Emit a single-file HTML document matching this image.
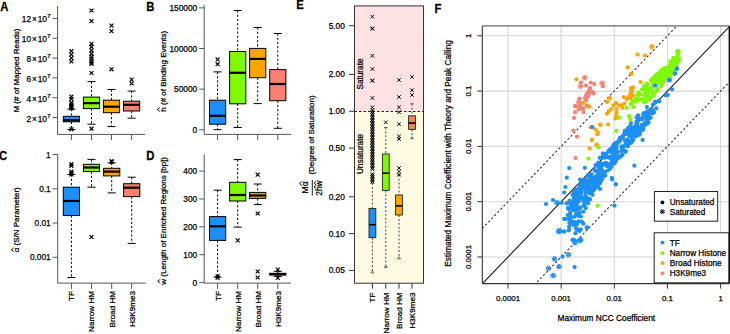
<!DOCTYPE html>
<html><head><meta charset="utf-8"><style>
html,body{margin:0;padding:0;background:#fff;width:730px;height:334px;overflow:hidden}
svg{display:block;font-family:'Liberation Sans',sans-serif}
text{font-family:'Liberation Sans',sans-serif;stroke:#000;stroke-width:0.25px}
</style></head><body>
<svg width="730" height="334" viewBox="0 0 730 334">
<rect width="730" height="334" fill="#fff"/>
<g transform="translate(0.3,10.6) scale(0.86,1)"><text x="0" y="0" font-size="13.2" font-weight="bold">A</text></g>
<line x1="57.60" y1="6.00" x2="57.60" y2="134.40" stroke="#555" stroke-width="1"/>
<line x1="57.60" y1="134.40" x2="145.00" y2="134.40" stroke="#555" stroke-width="1"/>
<line x1="71.40" y1="134.40" x2="71.40" y2="140.00" stroke="#555" stroke-width="1"/>
<line x1="91.50" y1="134.40" x2="91.50" y2="140.00" stroke="#555" stroke-width="1"/>
<line x1="111.50" y1="134.40" x2="111.50" y2="140.00" stroke="#555" stroke-width="1"/>
<line x1="131.60" y1="134.40" x2="131.60" y2="140.00" stroke="#555" stroke-width="1"/>
<line x1="52.60" y1="117.50" x2="57.60" y2="117.50" stroke="#555" stroke-width="1"/>
<text x="50.60" y="121.50" font-size="8.3" text-anchor="end">2<tspan dx="0.9">×</tspan><tspan dx="0.9">10</tspan><tspan font-size="5.8" dy="-4.0" dx="0.4">7</tspan></text>
<line x1="52.60" y1="97.68" x2="57.60" y2="97.68" stroke="#555" stroke-width="1"/>
<text x="50.60" y="101.68" font-size="8.3" text-anchor="end">4<tspan dx="0.9">×</tspan><tspan dx="0.9">10</tspan><tspan font-size="5.8" dy="-4.0" dx="0.4">7</tspan></text>
<line x1="52.60" y1="77.86" x2="57.60" y2="77.86" stroke="#555" stroke-width="1"/>
<text x="50.60" y="81.86" font-size="8.3" text-anchor="end">6<tspan dx="0.9">×</tspan><tspan dx="0.9">10</tspan><tspan font-size="5.8" dy="-4.0" dx="0.4">7</tspan></text>
<line x1="52.60" y1="58.04" x2="57.60" y2="58.04" stroke="#555" stroke-width="1"/>
<text x="50.60" y="62.04" font-size="8.3" text-anchor="end">8<tspan dx="0.9">×</tspan><tspan dx="0.9">10</tspan><tspan font-size="5.8" dy="-4.0" dx="0.4">7</tspan></text>
<line x1="52.60" y1="38.22" x2="57.60" y2="38.22" stroke="#555" stroke-width="1"/>
<text x="50.60" y="42.22" font-size="8.3" text-anchor="end">10<tspan dx="0.9">×</tspan><tspan dx="0.9">10</tspan><tspan font-size="5.8" dy="-4.0" dx="0.4">7</tspan></text>
<line x1="52.60" y1="18.40" x2="57.60" y2="18.40" stroke="#555" stroke-width="1"/>
<text x="50.60" y="22.40" font-size="8.3" text-anchor="end">12<tspan dx="0.9">×</tspan><tspan dx="0.9">10</tspan><tspan font-size="5.8" dy="-4.0" dx="0.4">7</tspan></text>
<text x="19.30" y="70.50" font-size="8.0" text-anchor="middle" font-weight="normal" fill="#000" transform="rotate(-90 19.3 70.5)">M (# of Mapped Reads)</text>
<line x1="71.40" y1="109.10" x2="71.40" y2="116.30" stroke="#000" stroke-width="1" stroke-dasharray="2.2,2"/>
<line x1="67.35" y1="109.10" x2="75.45" y2="109.10" stroke="#000" stroke-width="1"/>
<line x1="71.40" y1="121.80" x2="71.40" y2="129.50" stroke="#000" stroke-width="1" stroke-dasharray="2.2,2"/>
<line x1="67.35" y1="129.50" x2="75.45" y2="129.50" stroke="#000" stroke-width="1"/>
<rect x="63.30" y="116.30" width="16.20" height="5.50" fill="#1D8FF8" stroke="#000" stroke-width="1"/>
<line x1="63.30" y1="120.20" x2="79.50" y2="120.20" stroke="#000" stroke-width="2.2"/>
<line x1="91.50" y1="81.60" x2="91.50" y2="97.10" stroke="#000" stroke-width="1" stroke-dasharray="2.2,2"/>
<line x1="87.45" y1="81.60" x2="95.55" y2="81.60" stroke="#000" stroke-width="1"/>
<line x1="91.50" y1="108.60" x2="91.50" y2="124.20" stroke="#000" stroke-width="1" stroke-dasharray="2.2,2"/>
<line x1="87.45" y1="124.20" x2="95.55" y2="124.20" stroke="#000" stroke-width="1"/>
<rect x="83.40" y="97.10" width="16.20" height="11.50" fill="#7FFA00" stroke="#000" stroke-width="1"/>
<line x1="83.40" y1="103.10" x2="99.60" y2="103.10" stroke="#000" stroke-width="2.2"/>
<line x1="111.50" y1="89.50" x2="111.50" y2="100.20" stroke="#000" stroke-width="1" stroke-dasharray="2.2,2"/>
<line x1="107.45" y1="89.50" x2="115.55" y2="89.50" stroke="#000" stroke-width="1"/>
<line x1="111.50" y1="112.70" x2="111.50" y2="126.60" stroke="#000" stroke-width="1" stroke-dasharray="2.2,2"/>
<line x1="107.45" y1="126.60" x2="115.55" y2="126.60" stroke="#000" stroke-width="1"/>
<rect x="103.40" y="100.20" width="16.20" height="12.50" fill="#FFA500" stroke="#000" stroke-width="1"/>
<line x1="103.40" y1="106.70" x2="119.60" y2="106.70" stroke="#000" stroke-width="2.2"/>
<line x1="131.60" y1="91.10" x2="131.60" y2="101.20" stroke="#000" stroke-width="1" stroke-dasharray="2.2,2"/>
<line x1="127.55" y1="91.10" x2="135.65" y2="91.10" stroke="#000" stroke-width="1"/>
<line x1="131.60" y1="111.00" x2="131.60" y2="118.20" stroke="#000" stroke-width="1" stroke-dasharray="2.2,2"/>
<line x1="127.55" y1="118.20" x2="135.65" y2="118.20" stroke="#000" stroke-width="1"/>
<rect x="123.50" y="101.20" width="16.20" height="9.80" fill="#FA8072" stroke="#000" stroke-width="1"/>
<line x1="123.50" y1="104.80" x2="139.70" y2="104.80" stroke="#000" stroke-width="2.2"/>
<path d="M69.45 49.05L73.35 52.95M69.45 52.95L73.35 49.05" stroke="#000" stroke-width="1.2"/>
<path d="M69.45 52.55L73.35 56.45M69.45 56.45L73.35 52.55" stroke="#000" stroke-width="1.2"/>
<path d="M69.45 56.05L73.35 59.95M69.45 59.95L73.35 56.05" stroke="#000" stroke-width="1.2"/>
<path d="M69.45 59.55L73.35 63.45M69.45 63.45L73.35 59.55" stroke="#000" stroke-width="1.2"/>
<path d="M69.45 94.65L73.35 98.55M69.45 98.55L73.35 94.65" stroke="#000" stroke-width="1.2"/>
<path d="M69.45 97.05L73.35 100.95M69.45 100.95L73.35 97.05" stroke="#000" stroke-width="1.2"/>
<path d="M69.45 100.65L73.35 104.55M69.45 104.55L73.35 100.65" stroke="#000" stroke-width="1.2"/>
<path d="M69.45 102.35L73.35 106.25M69.45 106.25L73.35 102.35" stroke="#000" stroke-width="1.2"/>
<path d="M69.45 103.85L73.35 107.75M69.45 107.75L73.35 103.85" stroke="#000" stroke-width="1.2"/>
<path d="M69.45 105.25L73.35 109.15M69.45 109.15L73.35 105.25" stroke="#000" stroke-width="1.2"/>
<path d="M69.45 106.35L73.35 110.25M69.45 110.25L73.35 106.35" stroke="#000" stroke-width="1.2"/>
<path d="M69.45 127.35L73.35 131.25M69.45 131.25L73.35 127.35" stroke="#000" stroke-width="1.2"/>
<path d="M89.55 8.55L93.45 12.45M89.55 12.45L93.45 8.55" stroke="#000" stroke-width="1.2"/>
<path d="M89.55 19.15L93.45 23.05M89.55 23.05L93.45 19.15" stroke="#000" stroke-width="1.2"/>
<path d="M89.55 41.85L93.45 45.75M89.55 45.75L93.45 41.85" stroke="#000" stroke-width="1.2"/>
<path d="M89.55 44.75L93.45 48.65M89.55 48.65L93.45 44.75" stroke="#000" stroke-width="1.2"/>
<path d="M89.55 48.35L93.45 52.25M89.55 52.25L93.45 48.35" stroke="#000" stroke-width="1.2"/>
<path d="M89.55 51.65L93.45 55.55M89.55 55.55L93.45 51.65" stroke="#000" stroke-width="1.2"/>
<path d="M89.55 54.55L93.45 58.45M89.55 58.45L93.45 54.55" stroke="#000" stroke-width="1.2"/>
<path d="M89.55 56.55L93.45 60.45M89.55 60.45L93.45 56.55" stroke="#000" stroke-width="1.2"/>
<path d="M89.55 58.55L93.45 62.45M89.55 62.45L93.45 58.55" stroke="#000" stroke-width="1.2"/>
<path d="M89.55 60.55L93.45 64.45M89.55 64.45L93.45 60.55" stroke="#000" stroke-width="1.2"/>
<path d="M89.55 61.85L93.45 65.75M89.55 65.75L93.45 61.85" stroke="#000" stroke-width="1.2"/>
<path d="M89.55 71.05L93.45 74.95M89.55 74.95L93.45 71.05" stroke="#000" stroke-width="1.2"/>
<path d="M89.55 126.75L93.45 130.65M89.55 130.65L93.45 126.75" stroke="#000" stroke-width="1.2"/>
<path d="M109.55 23.65L113.45 27.55M109.55 27.55L113.45 23.65" stroke="#000" stroke-width="1.2"/>
<path d="M109.55 29.15L113.45 33.05M109.55 33.05L113.45 29.15" stroke="#000" stroke-width="1.2"/>
<path d="M109.55 67.35L113.45 71.25M109.55 71.25L113.45 67.35" stroke="#000" stroke-width="1.2"/>
<path d="M129.65 77.65L133.55 81.55M129.65 81.55L133.55 77.65" stroke="#000" stroke-width="1.2"/>
<path d="M129.65 81.55L133.55 85.45M129.65 85.45L133.55 81.55" stroke="#000" stroke-width="1.2"/>
<g transform="translate(146.2,10.9) scale(0.86,1)"><text x="0" y="0" font-size="13.2" font-weight="bold">B</text></g>
<line x1="204.20" y1="4.80" x2="204.20" y2="134.40" stroke="#555" stroke-width="1"/>
<line x1="204.20" y1="134.40" x2="291.00" y2="134.40" stroke="#555" stroke-width="1"/>
<line x1="217.60" y1="134.40" x2="217.60" y2="140.00" stroke="#555" stroke-width="1"/>
<line x1="237.70" y1="134.40" x2="237.70" y2="140.00" stroke="#555" stroke-width="1"/>
<line x1="257.70" y1="134.40" x2="257.70" y2="140.00" stroke="#555" stroke-width="1"/>
<line x1="277.80" y1="134.40" x2="277.80" y2="140.00" stroke="#555" stroke-width="1"/>
<line x1="199.20" y1="129.80" x2="204.20" y2="129.80" stroke="#555" stroke-width="1"/>
<text x="197.20" y="132.80" font-size="8.3" text-anchor="end" font-weight="normal" fill="#000">0</text>
<line x1="199.20" y1="89.15" x2="204.20" y2="89.15" stroke="#555" stroke-width="1"/>
<text x="197.20" y="92.15" font-size="8.3" text-anchor="end" font-weight="normal" fill="#000">50000</text>
<line x1="199.20" y1="48.50" x2="204.20" y2="48.50" stroke="#555" stroke-width="1"/>
<text x="197.20" y="51.50" font-size="8.3" text-anchor="end" font-weight="normal" fill="#000">100000</text>
<line x1="199.20" y1="7.85" x2="204.20" y2="7.85" stroke="#555" stroke-width="1"/>
<text x="197.20" y="10.85" font-size="8.3" text-anchor="end" font-weight="normal" fill="#000">150000</text>
<text x="165.6" y="71.2" font-size="8.0" text-anchor="middle" transform="rotate(-90 165.6 71.2)">h (# of Binding Events)</text>
<path d="M159.80 107.64L157.20 109.50L159.80 111.36" fill="none" stroke="#000" stroke-width="0.9"/>
<line x1="217.60" y1="71.90" x2="217.60" y2="100.20" stroke="#000" stroke-width="1" stroke-dasharray="2.2,2"/>
<line x1="213.55" y1="71.90" x2="221.65" y2="71.90" stroke="#000" stroke-width="1"/>
<line x1="217.60" y1="124.20" x2="217.60" y2="129.70" stroke="#000" stroke-width="1" stroke-dasharray="2.2,2"/>
<line x1="213.55" y1="129.70" x2="221.65" y2="129.70" stroke="#000" stroke-width="1"/>
<rect x="209.50" y="100.20" width="16.20" height="24.00" fill="#1D8FF8" stroke="#000" stroke-width="1"/>
<line x1="209.50" y1="115.80" x2="225.70" y2="115.80" stroke="#000" stroke-width="2.2"/>
<line x1="237.70" y1="10.50" x2="237.70" y2="51.50" stroke="#000" stroke-width="1" stroke-dasharray="2.2,2"/>
<line x1="233.65" y1="10.50" x2="241.75" y2="10.50" stroke="#000" stroke-width="1"/>
<line x1="237.70" y1="103.80" x2="237.70" y2="127.50" stroke="#000" stroke-width="1" stroke-dasharray="2.2,2"/>
<line x1="233.65" y1="127.50" x2="241.75" y2="127.50" stroke="#000" stroke-width="1"/>
<rect x="229.60" y="51.50" width="16.20" height="52.30" fill="#7FFA00" stroke="#000" stroke-width="1"/>
<line x1="229.60" y1="72.80" x2="245.80" y2="72.80" stroke="#000" stroke-width="2.2"/>
<line x1="257.70" y1="27.50" x2="257.70" y2="48.40" stroke="#000" stroke-width="1" stroke-dasharray="2.2,2"/>
<line x1="253.65" y1="27.50" x2="261.75" y2="27.50" stroke="#000" stroke-width="1"/>
<line x1="257.70" y1="77.70" x2="257.70" y2="103.60" stroke="#000" stroke-width="1" stroke-dasharray="2.2,2"/>
<line x1="253.65" y1="103.60" x2="261.75" y2="103.60" stroke="#000" stroke-width="1"/>
<rect x="249.60" y="48.40" width="16.20" height="29.30" fill="#FFA500" stroke="#000" stroke-width="1"/>
<line x1="249.60" y1="58.90" x2="265.80" y2="58.90" stroke="#000" stroke-width="2.2"/>
<line x1="277.80" y1="33.50" x2="277.80" y2="69.60" stroke="#000" stroke-width="1" stroke-dasharray="2.2,2"/>
<line x1="273.75" y1="33.50" x2="281.85" y2="33.50" stroke="#000" stroke-width="1"/>
<line x1="277.80" y1="100.70" x2="277.80" y2="128.30" stroke="#000" stroke-width="1" stroke-dasharray="2.2,2"/>
<line x1="273.75" y1="128.30" x2="281.85" y2="128.30" stroke="#000" stroke-width="1"/>
<rect x="269.70" y="69.60" width="16.20" height="31.10" fill="#FA8072" stroke="#000" stroke-width="1"/>
<line x1="269.70" y1="84.00" x2="285.90" y2="84.00" stroke="#000" stroke-width="2.2"/>
<path d="M215.65 57.45L219.55 61.35M215.65 61.35L219.55 57.45" stroke="#000" stroke-width="1.2"/>
<path d="M215.65 62.25L219.55 66.15M215.65 66.15L219.55 62.25" stroke="#000" stroke-width="1.2"/>
<g transform="translate(-0.9,159.6) scale(0.86,1)"><text x="0" y="0" font-size="13.2" font-weight="bold">C</text></g>
<line x1="57.70" y1="154.50" x2="57.70" y2="283.10" stroke="#555" stroke-width="1"/>
<line x1="57.70" y1="283.10" x2="145.80" y2="283.10" stroke="#555" stroke-width="1"/>
<line x1="71.40" y1="283.10" x2="71.40" y2="288.90" stroke="#555" stroke-width="1"/>
<line x1="91.50" y1="283.10" x2="91.50" y2="288.90" stroke="#555" stroke-width="1"/>
<line x1="111.70" y1="283.10" x2="111.70" y2="288.90" stroke="#555" stroke-width="1"/>
<line x1="131.70" y1="283.10" x2="131.70" y2="288.90" stroke="#555" stroke-width="1"/>
<line x1="52.70" y1="154.50" x2="57.70" y2="154.50" stroke="#555" stroke-width="1"/>
<text x="50.70" y="157.50" font-size="8.3" text-anchor="end" font-weight="normal" fill="#000">1</text>
<line x1="52.70" y1="188.77" x2="57.70" y2="188.77" stroke="#555" stroke-width="1"/>
<text x="50.70" y="191.77" font-size="8.3" text-anchor="end" font-weight="normal" fill="#000">0.1</text>
<line x1="52.70" y1="223.04" x2="57.70" y2="223.04" stroke="#555" stroke-width="1"/>
<text x="50.70" y="226.04" font-size="8.3" text-anchor="end" font-weight="normal" fill="#000">0.01</text>
<line x1="52.70" y1="257.31" x2="57.70" y2="257.31" stroke="#555" stroke-width="1"/>
<text x="50.70" y="260.31" font-size="8.3" text-anchor="end" font-weight="normal" fill="#000">0.001</text>
<text x="19.3" y="219.8" font-size="8.0" text-anchor="middle" transform="rotate(-90 19.3 219.8)">α (S/N Parameter)</text>
<path d="M13.80 247.84L11.20 249.70L13.80 251.56" fill="none" stroke="#000" stroke-width="0.9"/>
<line x1="71.40" y1="174.50" x2="71.40" y2="187.20" stroke="#000" stroke-width="1" stroke-dasharray="2.2,2"/>
<line x1="67.35" y1="174.50" x2="75.45" y2="174.50" stroke="#000" stroke-width="1"/>
<line x1="71.40" y1="215.50" x2="71.40" y2="277.50" stroke="#000" stroke-width="1" stroke-dasharray="2.2,2"/>
<line x1="67.35" y1="277.50" x2="75.45" y2="277.50" stroke="#000" stroke-width="1"/>
<rect x="63.30" y="187.20" width="16.20" height="28.30" fill="#1D8FF8" stroke="#000" stroke-width="1"/>
<line x1="63.30" y1="201.00" x2="79.50" y2="201.00" stroke="#000" stroke-width="2.2"/>
<line x1="91.50" y1="159.40" x2="91.50" y2="164.30" stroke="#000" stroke-width="1" stroke-dasharray="2.2,2"/>
<line x1="87.45" y1="159.40" x2="95.55" y2="159.40" stroke="#000" stroke-width="1"/>
<line x1="91.50" y1="171.60" x2="91.50" y2="187.20" stroke="#000" stroke-width="1" stroke-dasharray="2.2,2"/>
<line x1="87.45" y1="187.20" x2="95.55" y2="187.20" stroke="#000" stroke-width="1"/>
<rect x="83.40" y="164.30" width="16.20" height="7.30" fill="#7FFA00" stroke="#000" stroke-width="1"/>
<line x1="83.40" y1="167.50" x2="99.60" y2="167.50" stroke="#000" stroke-width="2.2"/>
<line x1="111.70" y1="162.90" x2="111.70" y2="168.30" stroke="#000" stroke-width="1" stroke-dasharray="2.2,2"/>
<line x1="107.65" y1="162.90" x2="115.75" y2="162.90" stroke="#000" stroke-width="1"/>
<line x1="111.70" y1="175.90" x2="111.70" y2="192.90" stroke="#000" stroke-width="1" stroke-dasharray="2.2,2"/>
<line x1="107.65" y1="192.90" x2="115.75" y2="192.90" stroke="#000" stroke-width="1"/>
<rect x="103.60" y="168.30" width="16.20" height="7.60" fill="#FFA500" stroke="#000" stroke-width="1"/>
<line x1="103.60" y1="171.60" x2="119.80" y2="171.60" stroke="#000" stroke-width="2.2"/>
<line x1="131.70" y1="177.20" x2="131.70" y2="183.70" stroke="#000" stroke-width="1" stroke-dasharray="2.2,2"/>
<line x1="127.65" y1="177.20" x2="135.75" y2="177.20" stroke="#000" stroke-width="1"/>
<line x1="131.70" y1="196.60" x2="131.70" y2="243.40" stroke="#000" stroke-width="1" stroke-dasharray="2.2,2"/>
<line x1="127.65" y1="243.40" x2="135.75" y2="243.40" stroke="#000" stroke-width="1"/>
<rect x="123.60" y="183.70" width="16.20" height="12.90" fill="#FA8072" stroke="#000" stroke-width="1"/>
<line x1="123.60" y1="187.70" x2="139.80" y2="187.70" stroke="#000" stroke-width="2.2"/>
<path d="M69.45 162.25L73.35 166.15M69.45 166.15L73.35 162.25" stroke="#000" stroke-width="1.2"/>
<path d="M69.45 163.85L73.35 167.75M69.45 167.75L73.35 163.85" stroke="#000" stroke-width="1.2"/>
<path d="M69.45 169.55L73.35 173.45M69.45 173.45L73.35 169.55" stroke="#000" stroke-width="1.2"/>
<path d="M69.45 171.05L73.35 174.95M69.45 174.95L73.35 171.05" stroke="#000" stroke-width="1.2"/>
<path d="M69.45 172.45L73.35 176.35M69.45 176.35L73.35 172.45" stroke="#000" stroke-width="1.2"/>
<path d="M89.55 235.05L93.45 238.95M89.55 238.95L93.45 235.05" stroke="#000" stroke-width="1.2"/>
<path d="M109.75 159.05L113.65 162.95M109.75 162.95L113.65 159.05" stroke="#000" stroke-width="1.2"/>
<path d="M109.75 160.05L113.65 163.95M109.75 163.95L113.65 160.05" stroke="#000" stroke-width="1.2"/>
<text x="74.30" y="291.00" font-size="8.1" text-anchor="end" font-weight="normal" fill="#000" transform="rotate(-90 74.30000000000001 291.0)">TF</text>
<text x="94.40" y="291.00" font-size="8.1" text-anchor="end" font-weight="normal" fill="#000" transform="rotate(-90 94.4 291.0)">Narrow HM</text>
<text x="114.60" y="291.00" font-size="8.1" text-anchor="end" font-weight="normal" fill="#000" transform="rotate(-90 114.60000000000001 291.0)">Broad HM</text>
<text x="134.60" y="291.00" font-size="8.1" text-anchor="end" font-weight="normal" fill="#000" transform="rotate(-90 134.6 291.0)">H3K9me3</text>
<g transform="translate(146.2,159.6) scale(0.86,1)"><text x="0" y="0" font-size="13.2" font-weight="bold">D</text></g>
<line x1="204.20" y1="154.30" x2="204.20" y2="283.10" stroke="#555" stroke-width="1"/>
<line x1="204.20" y1="283.10" x2="291.00" y2="283.10" stroke="#555" stroke-width="1"/>
<line x1="217.60" y1="283.10" x2="217.60" y2="288.90" stroke="#555" stroke-width="1"/>
<line x1="237.70" y1="283.10" x2="237.70" y2="288.90" stroke="#555" stroke-width="1"/>
<line x1="257.70" y1="283.10" x2="257.70" y2="288.90" stroke="#555" stroke-width="1"/>
<line x1="277.80" y1="283.10" x2="277.80" y2="288.90" stroke="#555" stroke-width="1"/>
<line x1="199.20" y1="282.60" x2="204.20" y2="282.60" stroke="#555" stroke-width="1"/>
<text x="197.20" y="285.60" font-size="8.3" text-anchor="end" font-weight="normal" fill="#000">0</text>
<line x1="199.20" y1="254.72" x2="204.20" y2="254.72" stroke="#555" stroke-width="1"/>
<text x="197.20" y="257.72" font-size="8.3" text-anchor="end" font-weight="normal" fill="#000">100</text>
<line x1="199.20" y1="226.84" x2="204.20" y2="226.84" stroke="#555" stroke-width="1"/>
<text x="197.20" y="229.84" font-size="8.3" text-anchor="end" font-weight="normal" fill="#000">200</text>
<line x1="199.20" y1="198.96" x2="204.20" y2="198.96" stroke="#555" stroke-width="1"/>
<text x="197.20" y="201.96" font-size="8.3" text-anchor="end" font-weight="normal" fill="#000">300</text>
<line x1="199.20" y1="171.08" x2="204.20" y2="171.08" stroke="#555" stroke-width="1"/>
<text x="197.20" y="174.08" font-size="8.3" text-anchor="end" font-weight="normal" fill="#000">400</text>
<text x="165.7" y="220.8" font-size="8.0" text-anchor="middle" transform="rotate(-90 165.7 220.8)">w (Length of Enriched Regions [bp])</text>
<path d="M160.30 279.34L157.70 281.20L160.30 283.06" fill="none" stroke="#000" stroke-width="0.9"/>
<line x1="217.60" y1="190.20" x2="217.60" y2="216.60" stroke="#000" stroke-width="1" stroke-dasharray="2.2,2"/>
<line x1="213.55" y1="190.20" x2="221.65" y2="190.20" stroke="#000" stroke-width="1"/>
<line x1="217.60" y1="240.40" x2="217.60" y2="277.00" stroke="#000" stroke-width="1" stroke-dasharray="2.2,2"/>
<line x1="213.55" y1="277.00" x2="221.65" y2="277.00" stroke="#000" stroke-width="1"/>
<rect x="209.50" y="216.60" width="16.20" height="23.80" fill="#1D8FF8" stroke="#000" stroke-width="1"/>
<line x1="209.50" y1="226.30" x2="225.70" y2="226.30" stroke="#000" stroke-width="2.2"/>
<line x1="237.70" y1="159.60" x2="237.70" y2="182.30" stroke="#000" stroke-width="1" stroke-dasharray="2.2,2"/>
<line x1="233.65" y1="159.60" x2="241.75" y2="159.60" stroke="#000" stroke-width="1"/>
<line x1="237.70" y1="201.00" x2="237.70" y2="227.10" stroke="#000" stroke-width="1" stroke-dasharray="2.2,2"/>
<line x1="233.65" y1="227.10" x2="241.75" y2="227.10" stroke="#000" stroke-width="1"/>
<rect x="229.60" y="182.30" width="16.20" height="18.70" fill="#7FFA00" stroke="#000" stroke-width="1"/>
<line x1="229.60" y1="195.00" x2="245.80" y2="195.00" stroke="#000" stroke-width="2.2"/>
<line x1="257.70" y1="184.00" x2="257.70" y2="192.40" stroke="#000" stroke-width="1" stroke-dasharray="2.2,2"/>
<line x1="253.65" y1="184.00" x2="261.75" y2="184.00" stroke="#000" stroke-width="1"/>
<line x1="257.70" y1="198.40" x2="257.70" y2="204.60" stroke="#000" stroke-width="1" stroke-dasharray="2.2,2"/>
<line x1="253.65" y1="204.60" x2="261.75" y2="204.60" stroke="#000" stroke-width="1"/>
<rect x="249.60" y="192.40" width="16.20" height="6.00" fill="#FFA500" stroke="#000" stroke-width="1"/>
<line x1="249.60" y1="195.50" x2="265.80" y2="195.50" stroke="#000" stroke-width="2.2"/>
<line x1="277.80" y1="271.30" x2="277.80" y2="273.30" stroke="#000" stroke-width="1" stroke-dasharray="2.2,2"/>
<line x1="273.75" y1="271.30" x2="281.85" y2="271.30" stroke="#000" stroke-width="1"/>
<line x1="277.80" y1="275.10" x2="277.80" y2="276.40" stroke="#000" stroke-width="1" stroke-dasharray="2.2,2"/>
<line x1="273.75" y1="276.40" x2="281.85" y2="276.40" stroke="#000" stroke-width="1"/>
<rect x="269.70" y="273.30" width="16.20" height="1.80" fill="#FA8072" stroke="#000" stroke-width="1"/>
<line x1="269.70" y1="274.20" x2="285.90" y2="274.20" stroke="#000" stroke-width="1.6"/>
<path d="M215.65 274.35L219.55 278.25M215.65 278.25L219.55 274.35" stroke="#000" stroke-width="1.2"/>
<path d="M215.65 276.05L219.55 279.95M215.65 279.95L219.55 276.05" stroke="#000" stroke-width="1.2"/>
<path d="M235.75 238.45L239.65 242.35M235.75 242.35L239.65 238.45" stroke="#000" stroke-width="1.2"/>
<path d="M255.75 172.75L259.65 176.65M255.75 176.65L259.65 172.75" stroke="#000" stroke-width="1.2"/>
<path d="M255.75 211.55L259.65 215.45M255.75 215.45L259.65 211.55" stroke="#000" stroke-width="1.2"/>
<path d="M255.75 269.55L259.65 273.45M255.75 273.45L259.65 269.55" stroke="#000" stroke-width="1.2"/>
<path d="M255.75 275.55L259.65 279.45M255.75 279.45L259.65 275.55" stroke="#000" stroke-width="1.2"/>
<path d="M275.85 267.65L279.75 271.55M275.85 271.55L279.75 267.65" stroke="#000" stroke-width="1.2"/>
<path d="M275.85 276.05L279.75 279.95M275.85 279.95L279.75 276.05" stroke="#000" stroke-width="1.2"/>
<text x="220.50" y="291.00" font-size="8.1" text-anchor="end" font-weight="normal" fill="#000" transform="rotate(-90 220.5 291.0)">TF</text>
<text x="240.60" y="291.00" font-size="8.1" text-anchor="end" font-weight="normal" fill="#000" transform="rotate(-90 240.6 291.0)">Narrow HM</text>
<text x="260.60" y="291.00" font-size="8.1" text-anchor="end" font-weight="normal" fill="#000" transform="rotate(-90 260.59999999999997 291.0)">Broad HM</text>
<text x="280.70" y="291.00" font-size="8.1" text-anchor="end" font-weight="normal" fill="#000" transform="rotate(-90 280.7 291.0)">H3K9me3</text>
<g transform="translate(296.2,9.0) scale(0.86,1)"><text x="0" y="0" font-size="13.2" font-weight="bold">E</text></g>
<rect x="354.50" y="5.90" width="69.00" height="105.60" fill="#FEE2E2" stroke="none" stroke-width="1"/>
<rect x="354.50" y="111.50" width="69.00" height="171.70" fill="#FDFCE3" stroke="none" stroke-width="1"/>
<line x1="354.50" y1="111.50" x2="423.50" y2="111.50" stroke="#222" stroke-width="1" stroke-dasharray="2.5,2"/>
<line x1="349.00" y1="25.73" x2="354.50" y2="25.73" stroke="#333" stroke-width="1"/>
<text x="344.80" y="28.73" font-size="8.3" text-anchor="end" font-weight="normal" fill="#000">5.00</text>
<line x1="349.00" y1="74.42" x2="354.50" y2="74.42" stroke="#333" stroke-width="1"/>
<text x="344.80" y="77.42" font-size="8.3" text-anchor="end" font-weight="normal" fill="#000">2.00</text>
<line x1="349.00" y1="111.25" x2="354.50" y2="111.25" stroke="#333" stroke-width="1"/>
<text x="344.80" y="114.25" font-size="8.3" text-anchor="end" font-weight="normal" fill="#000">1.00</text>
<line x1="349.00" y1="148.08" x2="354.50" y2="148.08" stroke="#333" stroke-width="1"/>
<text x="344.80" y="151.08" font-size="8.3" text-anchor="end" font-weight="normal" fill="#000">0.50</text>
<line x1="349.00" y1="196.77" x2="354.50" y2="196.77" stroke="#333" stroke-width="1"/>
<text x="344.80" y="199.77" font-size="8.3" text-anchor="end" font-weight="normal" fill="#000">0.20</text>
<line x1="349.00" y1="233.60" x2="354.50" y2="233.60" stroke="#333" stroke-width="1"/>
<text x="344.80" y="236.60" font-size="8.3" text-anchor="end" font-weight="normal" fill="#000">0.10</text>
<line x1="349.00" y1="270.43" x2="354.50" y2="270.43" stroke="#333" stroke-width="1"/>
<text x="344.80" y="273.43" font-size="8.3" text-anchor="end" font-weight="normal" fill="#000">0.05</text>
<line x1="372.40" y1="283.20" x2="372.40" y2="288.70" stroke="#333" stroke-width="1"/>
<line x1="385.80" y1="283.20" x2="385.80" y2="288.70" stroke="#333" stroke-width="1"/>
<line x1="399.00" y1="283.20" x2="399.00" y2="288.70" stroke="#333" stroke-width="1"/>
<line x1="412.00" y1="283.20" x2="412.00" y2="288.70" stroke="#333" stroke-width="1"/>
<text x="375.30" y="292.50" font-size="8.1" text-anchor="end" font-weight="normal" fill="#000" transform="rotate(-90 375.29999999999995 292.5)">TF</text>
<text x="388.70" y="292.50" font-size="8.1" text-anchor="end" font-weight="normal" fill="#000" transform="rotate(-90 388.7 292.5)">Narrow HM</text>
<text x="401.90" y="292.50" font-size="8.1" text-anchor="end" font-weight="normal" fill="#000" transform="rotate(-90 401.9 292.5)">Broad HM</text>
<text x="414.90" y="292.50" font-size="8.1" text-anchor="end" font-weight="normal" fill="#000" transform="rotate(-90 414.9 292.5)">H3K9me3</text>
<text x="362.70" y="74.00" font-size="8.2" text-anchor="middle" font-weight="normal" fill="#000" transform="rotate(-90 362.7 74)">Saturate</text>
<text x="362.70" y="154.00" font-size="8.2" text-anchor="middle" font-weight="normal" fill="#000" transform="rotate(-90 362.7 154)">Unsaturate</text>
<line x1="372.40" y1="183.00" x2="372.40" y2="208.50" stroke="#555" stroke-width="1.1" stroke-dasharray="2,1.9"/>
<line x1="370.60" y1="183.00" x2="374.20" y2="183.00" stroke="#555" stroke-width="0.9"/>
<line x1="372.40" y1="237.70" x2="372.40" y2="272.30" stroke="#555" stroke-width="1.1" stroke-dasharray="2,1.9"/>
<path d="M370.80 272.90L374.00 272.90L372.40 270.70Z" fill="none" stroke="#555" stroke-width="0.8"/>
<rect x="369.00" y="208.50" width="6.80" height="29.20" fill="#1D8FF8" stroke="#222" stroke-width="0.9"/>
<line x1="369.00" y1="224.70" x2="375.80" y2="224.70" stroke="#000" stroke-width="1.6"/>
<line x1="385.80" y1="127.50" x2="385.80" y2="154.00" stroke="#555" stroke-width="1.1" stroke-dasharray="2,1.9"/>
<line x1="384.00" y1="127.50" x2="387.60" y2="127.50" stroke="#555" stroke-width="0.9"/>
<line x1="385.80" y1="190.40" x2="385.80" y2="266.90" stroke="#555" stroke-width="1.1" stroke-dasharray="2,1.9"/>
<path d="M384.20 267.50L387.40 267.50L385.80 265.30Z" fill="none" stroke="#555" stroke-width="0.8"/>
<rect x="382.40" y="154.00" width="6.80" height="36.40" fill="#7FFA00" stroke="#222" stroke-width="0.9"/>
<line x1="382.40" y1="173.20" x2="389.20" y2="173.20" stroke="#000" stroke-width="1.6"/>
<line x1="399.00" y1="174.80" x2="399.00" y2="195.00" stroke="#555" stroke-width="1.1" stroke-dasharray="2,1.9"/>
<line x1="397.20" y1="174.80" x2="400.80" y2="174.80" stroke="#555" stroke-width="0.9"/>
<line x1="399.00" y1="215.00" x2="399.00" y2="258.30" stroke="#555" stroke-width="1.1" stroke-dasharray="2,1.9"/>
<path d="M397.40 258.90L400.60 258.90L399.00 256.70Z" fill="none" stroke="#555" stroke-width="0.8"/>
<rect x="395.60" y="195.00" width="6.80" height="20.00" fill="#FFA500" stroke="#222" stroke-width="0.9"/>
<line x1="395.60" y1="205.80" x2="402.40" y2="205.80" stroke="#000" stroke-width="1.6"/>
<line x1="412.00" y1="103.80" x2="412.00" y2="115.80" stroke="#555" stroke-width="1.1" stroke-dasharray="2,1.9"/>
<line x1="410.20" y1="103.80" x2="413.80" y2="103.80" stroke="#555" stroke-width="0.9"/>
<line x1="412.00" y1="129.40" x2="412.00" y2="138.20" stroke="#555" stroke-width="1.1" stroke-dasharray="2,1.9"/>
<path d="M410.40 138.80L413.60 138.80L412.00 136.60Z" fill="none" stroke="#555" stroke-width="0.8"/>
<rect x="408.60" y="115.80" width="6.80" height="13.60" fill="#F4845F" stroke="#222" stroke-width="0.9"/>
<line x1="408.60" y1="123.10" x2="415.40" y2="123.10" stroke="#000" stroke-width="1.6"/>
<path d="M370.60 14.90L374.20 18.50M370.60 18.50L374.20 14.90" stroke="#000" stroke-width="0.95"/>
<path d="M370.60 26.50L374.20 30.10M370.60 30.10L374.20 26.50" stroke="#000" stroke-width="0.95"/>
<path d="M370.60 27.00L374.20 30.60M370.60 30.60L374.20 27.00" stroke="#000" stroke-width="0.95"/>
<path d="M370.60 54.00L374.20 57.60M370.60 57.60L374.20 54.00" stroke="#000" stroke-width="0.95"/>
<path d="M370.60 67.20L374.20 70.80M370.60 70.80L374.20 67.20" stroke="#000" stroke-width="0.95"/>
<path d="M370.60 78.60L374.20 82.20M370.60 82.20L374.20 78.60" stroke="#000" stroke-width="0.95"/>
<path d="M370.60 79.10L374.20 82.70M370.60 82.70L374.20 79.10" stroke="#000" stroke-width="0.95"/>
<path d="M370.60 96.20L374.20 99.80M370.60 99.80L374.20 96.20" stroke="#000" stroke-width="0.95"/>
<path d="M370.60 105.50L374.20 109.10M370.60 109.10L374.20 105.50" stroke="#000" stroke-width="0.95"/>
<path d="M370.60 108.40L374.20 112.00M370.60 112.00L374.20 108.40" stroke="#000" stroke-width="0.95"/>
<path d="M370.60 110.20L374.20 113.80M370.60 113.80L374.20 110.20" stroke="#000" stroke-width="1.0"/>
<path d="M370.60 111.75L374.20 115.35M370.60 115.35L374.20 111.75" stroke="#000" stroke-width="1.0"/>
<path d="M370.60 113.30L374.20 116.90M370.60 116.90L374.20 113.30" stroke="#000" stroke-width="1.0"/>
<path d="M370.60 114.85L374.20 118.45M370.60 118.45L374.20 114.85" stroke="#000" stroke-width="1.0"/>
<path d="M370.60 116.40L374.20 120.00M370.60 120.00L374.20 116.40" stroke="#000" stroke-width="1.0"/>
<path d="M370.60 117.95L374.20 121.55M370.60 121.55L374.20 117.95" stroke="#000" stroke-width="1.0"/>
<path d="M370.60 119.50L374.20 123.10M370.60 123.10L374.20 119.50" stroke="#000" stroke-width="1.0"/>
<path d="M370.60 121.05L374.20 124.65M370.60 124.65L374.20 121.05" stroke="#000" stroke-width="1.0"/>
<path d="M370.60 122.60L374.20 126.20M370.60 126.20L374.20 122.60" stroke="#000" stroke-width="1.0"/>
<path d="M370.60 124.15L374.20 127.75M370.60 127.75L374.20 124.15" stroke="#000" stroke-width="1.0"/>
<path d="M370.60 125.70L374.20 129.30M370.60 129.30L374.20 125.70" stroke="#000" stroke-width="1.0"/>
<path d="M370.60 127.25L374.20 130.85M370.60 130.85L374.20 127.25" stroke="#000" stroke-width="1.0"/>
<path d="M370.60 128.80L374.20 132.40M370.60 132.40L374.20 128.80" stroke="#000" stroke-width="1.0"/>
<path d="M370.60 130.35L374.20 133.95M370.60 133.95L374.20 130.35" stroke="#000" stroke-width="1.0"/>
<path d="M370.60 131.90L374.20 135.50M370.60 135.50L374.20 131.90" stroke="#000" stroke-width="1.0"/>
<path d="M370.60 133.45L374.20 137.05M370.60 137.05L374.20 133.45" stroke="#000" stroke-width="1.0"/>
<path d="M370.60 135.00L374.20 138.60M370.60 138.60L374.20 135.00" stroke="#000" stroke-width="1.0"/>
<path d="M370.60 136.55L374.20 140.15M370.60 140.15L374.20 136.55" stroke="#000" stroke-width="1.0"/>
<path d="M370.60 138.10L374.20 141.70M370.60 141.70L374.20 138.10" stroke="#000" stroke-width="1.0"/>
<path d="M370.60 139.65L374.20 143.25M370.60 143.25L374.20 139.65" stroke="#000" stroke-width="1.0"/>
<path d="M370.60 141.20L374.20 144.80M370.60 144.80L374.20 141.20" stroke="#000" stroke-width="1.0"/>
<path d="M370.60 142.75L374.20 146.35M370.60 146.35L374.20 142.75" stroke="#000" stroke-width="1.0"/>
<path d="M370.60 144.30L374.20 147.90M370.60 147.90L374.20 144.30" stroke="#000" stroke-width="1.0"/>
<path d="M370.60 145.85L374.20 149.45M370.60 149.45L374.20 145.85" stroke="#000" stroke-width="1.0"/>
<path d="M370.60 147.40L374.20 151.00M370.60 151.00L374.20 147.40" stroke="#000" stroke-width="1.0"/>
<path d="M370.60 148.95L374.20 152.55M370.60 152.55L374.20 148.95" stroke="#000" stroke-width="1.0"/>
<path d="M370.60 150.50L374.20 154.10M370.60 154.10L374.20 150.50" stroke="#000" stroke-width="1.0"/>
<path d="M370.60 152.05L374.20 155.65M370.60 155.65L374.20 152.05" stroke="#000" stroke-width="1.0"/>
<path d="M370.60 153.60L374.20 157.20M370.60 157.20L374.20 153.60" stroke="#000" stroke-width="1.0"/>
<path d="M370.60 155.15L374.20 158.75M370.60 158.75L374.20 155.15" stroke="#000" stroke-width="1.0"/>
<path d="M370.60 156.70L374.20 160.30M370.60 160.30L374.20 156.70" stroke="#000" stroke-width="1.0"/>
<path d="M370.60 158.25L374.20 161.85M370.60 161.85L374.20 158.25" stroke="#000" stroke-width="1.0"/>
<path d="M370.60 159.80L374.20 163.40M370.60 163.40L374.20 159.80" stroke="#000" stroke-width="1.0"/>
<path d="M370.60 161.35L374.20 164.95M370.60 164.95L374.20 161.35" stroke="#000" stroke-width="1.0"/>
<path d="M370.60 162.90L374.20 166.50M370.60 166.50L374.20 162.90" stroke="#000" stroke-width="1.0"/>
<path d="M370.60 164.45L374.20 168.05M370.60 168.05L374.20 164.45" stroke="#000" stroke-width="1.0"/>
<path d="M370.60 166.00L374.20 169.60M370.60 169.60L374.20 166.00" stroke="#000" stroke-width="1.0"/>
<path d="M370.60 167.55L374.20 171.15M370.60 171.15L374.20 167.55" stroke="#000" stroke-width="1.0"/>
<path d="M370.60 172.20L374.20 175.80M370.60 175.80L374.20 172.20" stroke="#000" stroke-width="1.0"/>
<path d="M370.60 173.75L374.20 177.35M370.60 177.35L374.20 173.75" stroke="#000" stroke-width="1.0"/>
<path d="M370.60 175.30L374.20 178.90M370.60 178.90L374.20 175.30" stroke="#000" stroke-width="1.0"/>
<path d="M370.60 176.85L374.20 180.45M370.60 180.45L374.20 176.85" stroke="#000" stroke-width="1.0"/>
<path d="M370.60 178.40L374.20 182.00M370.60 182.00L374.20 178.40" stroke="#000" stroke-width="1.0"/>
<path d="M370.60 179.95L374.20 183.55M370.60 183.55L374.20 179.95" stroke="#000" stroke-width="1.0"/>
<path d="M384.00 120.50L387.60 124.10M384.00 124.10L387.60 120.50" stroke="#000" stroke-width="0.95"/>
<path d="M397.20 78.20L400.80 81.80M397.20 81.80L400.80 78.20" stroke="#000" stroke-width="0.95"/>
<path d="M397.20 95.20L400.80 98.80M397.20 98.80L400.80 95.20" stroke="#000" stroke-width="0.95"/>
<path d="M397.20 105.50L400.80 109.10M397.20 109.10L400.80 105.50" stroke="#000" stroke-width="0.95"/>
<path d="M397.20 110.40L400.80 114.00M397.20 114.00L400.80 110.40" stroke="#000" stroke-width="0.95"/>
<path d="M397.20 122.40L400.80 126.00M397.20 126.00L400.80 122.40" stroke="#000" stroke-width="0.95"/>
<path d="M397.20 134.60L400.80 138.20M397.20 138.20L400.80 134.60" stroke="#000" stroke-width="0.95"/>
<path d="M397.20 137.20L400.80 140.80M397.20 140.80L400.80 137.20" stroke="#000" stroke-width="0.95"/>
<path d="M397.20 166.20L400.80 169.80M397.20 169.80L400.80 166.20" stroke="#000" stroke-width="0.95"/>
<path d="M397.20 169.70L400.80 173.30M397.20 173.30L400.80 169.70" stroke="#000" stroke-width="0.95"/>
<path d="M397.20 172.90L400.80 176.50M397.20 176.50L400.80 172.90" stroke="#000" stroke-width="0.95"/>
<path d="M410.20 75.10L413.80 78.70M410.20 78.70L413.80 75.10" stroke="#000" stroke-width="0.95"/>
<path d="M410.20 88.40L413.80 92.00M410.20 92.00L413.80 88.40" stroke="#000" stroke-width="0.95"/>
<path d="M410.20 93.20L413.80 96.80M410.20 96.80L413.80 93.20" stroke="#000" stroke-width="0.95"/>
<rect x="354.50" y="5.90" width="69.00" height="277.30" fill="none" stroke="#333" stroke-width="1"/>
<text x="314.2" y="135" font-size="8.0" text-anchor="middle" transform="rotate(-90 314.2 135)">(Degree of Saturation)</text>
<text x="307.9" y="187.4" font-size="8.6" text-anchor="middle" transform="rotate(-90 307.9 187.4)">Mα</text>
<path d="M302.00 181.60L299.60 183.60L302.00 185.60" fill="none" stroke="#000" stroke-width="0.9"/>
<line x1="312.30" y1="180.00" x2="312.30" y2="195.50" stroke="#000" stroke-width="0.9"/>
<text x="321.6" y="188.1" font-size="8.3" text-anchor="middle" transform="rotate(-90 321.6 188.1)">2hw</text>
<path d="M316.20 181.34L314.00 183.20L316.20 185.06" fill="none" stroke="#000" stroke-width="0.9"/>
<path d="M316.00 185.43L314.00 187.00L316.00 188.57" fill="none" stroke="#000" stroke-width="0.9"/>
<g transform="translate(434.5,12.6) scale(0.86,1)"><text x="0" y="0" font-size="13.2" font-weight="bold">F</text></g>
<rect x="482.30" y="25.90" width="247.00" height="257.70" fill="#fff" stroke="none" stroke-width="1"/>
<line x1="508.00" y1="25.90" x2="508.00" y2="283.60" stroke="#d6d6d6" stroke-width="1.1"/>
<line x1="482.30" y1="257.00" x2="729.30" y2="257.00" stroke="#d6d6d6" stroke-width="1.1"/>
<line x1="561.15" y1="25.90" x2="561.15" y2="283.60" stroke="#d6d6d6" stroke-width="1.1"/>
<line x1="482.30" y1="201.70" x2="729.30" y2="201.70" stroke="#d6d6d6" stroke-width="1.1"/>
<line x1="614.30" y1="25.90" x2="614.30" y2="283.60" stroke="#d6d6d6" stroke-width="1.1"/>
<line x1="482.30" y1="146.40" x2="729.30" y2="146.40" stroke="#d6d6d6" stroke-width="1.1"/>
<line x1="667.45" y1="25.90" x2="667.45" y2="283.60" stroke="#d6d6d6" stroke-width="1.1"/>
<line x1="482.30" y1="91.10" x2="729.30" y2="91.10" stroke="#d6d6d6" stroke-width="1.1"/>
<line x1="720.60" y1="25.90" x2="720.60" y2="283.60" stroke="#d6d6d6" stroke-width="1.1"/>
<line x1="482.30" y1="35.80" x2="729.30" y2="35.80" stroke="#d6d6d6" stroke-width="1.1"/>
<clipPath id="fc"><rect x="482.3" y="25.9" width="246.99999999999994" height="257.70000000000005"/></clipPath>
<g clip-path="url(#fc)">
<line x1="476.11" y1="290.18" x2="736.54" y2="19.21" stroke="#111" stroke-width="1.05"/>
<line x1="476.11" y1="234.88" x2="736.54" y2="-36.09" stroke="#333" stroke-width="1.1" stroke-dasharray="2.2,2.2"/>
<line x1="476.11" y1="345.48" x2="736.54" y2="74.51" stroke="#333" stroke-width="1.1" stroke-dasharray="2.2,2.2"/>
</g>
<circle cx="580.9" cy="82.6" r="2.1" fill="#FA8072"/>
<circle cx="590.8" cy="82.6" r="2.1" fill="#FA8072"/>
<circle cx="594.3" cy="84.1" r="2.1" fill="#FA8072"/>
<circle cx="586.0" cy="85.6" r="2.1" fill="#FA8072"/>
<circle cx="590.2" cy="88.0" r="2.1" fill="#FA8072"/>
<circle cx="589.0" cy="90.4" r="2.1" fill="#FA8072"/>
<circle cx="592.6" cy="92.2" r="2.1" fill="#FA8072"/>
<circle cx="587.2" cy="92.8" r="2.1" fill="#FA8072"/>
<circle cx="593.7" cy="93.4" r="2.1" fill="#FA8072"/>
<circle cx="586.0" cy="95.7" r="2.1" fill="#FA8072"/>
<circle cx="584.8" cy="98.1" r="2.1" fill="#FA8072"/>
<circle cx="579.4" cy="98.7" r="2.1" fill="#FA8072"/>
<circle cx="586.0" cy="100.5" r="2.1" fill="#FA8072"/>
<circle cx="575.2" cy="105.9" r="2.1" fill="#FA8072"/>
<circle cx="580.0" cy="105.9" r="2.1" fill="#FA8072"/>
<circle cx="583.0" cy="108.3" r="2.1" fill="#FA8072"/>
<circle cx="578.8" cy="108.9" r="2.1" fill="#FA8072"/>
<circle cx="587.2" cy="105.9" r="2.1" fill="#FA8072"/>
<circle cx="575.2" cy="106.2" r="2.1" fill="#FA8072"/>
<circle cx="578.8" cy="109.2" r="2.1" fill="#FA8072"/>
<circle cx="583.0" cy="108.6" r="2.1" fill="#FA8072"/>
<circle cx="586.6" cy="105.6" r="2.1" fill="#FA8072"/>
<circle cx="575.2" cy="112.2" r="2.1" fill="#FA8072"/>
<circle cx="583.6" cy="112.2" r="2.1" fill="#FA8072"/>
<circle cx="574.0" cy="117.9" r="2.1" fill="#FA8072"/>
<circle cx="573.4" cy="130.7" r="2.1" fill="#FA8072"/>
<circle cx="577.0" cy="136.7" r="2.1" fill="#FA8072"/>
<circle cx="575.5" cy="158.0" r="2.1" fill="#FA8072"/>
<circle cx="579.1" cy="188.0" r="2.1" fill="#FA8072"/>
<circle cx="602.8" cy="86.2" r="2.1" fill="#FA8072"/>
<circle cx="588.0" cy="97.0" r="2.1" fill="#FA8072"/>
<circle cx="589.0" cy="94.0" r="2.1" fill="#FA8072"/>
<path d="M582.0 76.7L587.6 78.9M583.7 75.0L585.9 80.6M585.9 75.0L583.7 80.6M587.6 76.7L582.0 78.9" stroke="#FA8072" stroke-width="1.0"/><circle cx="584.8" cy="77.8" r="1.9" fill="none" stroke="#FA8072" stroke-width="0.8"/>
<path d="M577.8 85.1L583.4 87.3M579.5 83.4L581.7 89.0M581.7 83.4L579.5 89.0M583.4 85.1L577.8 87.3" stroke="#FA8072" stroke-width="1.0"/><circle cx="580.6" cy="86.2" r="1.9" fill="none" stroke="#FA8072" stroke-width="0.8"/>
<path d="M599.3 82.1L604.9 84.3M601.0 80.4L603.2 86.0M603.2 80.4L601.0 86.0M604.9 82.1L599.3 84.3" stroke="#FA8072" stroke-width="1.0"/><circle cx="602.1" cy="83.2" r="1.9" fill="none" stroke="#FA8072" stroke-width="0.8"/>
<path d="M576.0 101.2L581.6 103.4M577.7 99.5L579.9 105.1M579.9 99.5L577.7 105.1M581.6 101.2L576.0 103.4" stroke="#FA8072" stroke-width="1.0"/><circle cx="578.8" cy="102.3" r="1.9" fill="none" stroke="#FA8072" stroke-width="0.8"/>
<circle cx="576.4" cy="79.3" r="2.1" fill="#FFA500"/>
<circle cx="637.5" cy="54.6" r="2.1" fill="#FFA500"/>
<circle cx="645.0" cy="55.6" r="2.1" fill="#FFA500"/>
<circle cx="627.7" cy="67.3" r="2.1" fill="#FFA500"/>
<circle cx="631.0" cy="74.1" r="2.1" fill="#FFA500"/>
<circle cx="631.2" cy="73.6" r="2.1" fill="#FFA500"/>
<circle cx="640.5" cy="82.0" r="2.1" fill="#FFA500"/>
<circle cx="633.0" cy="87.4" r="2.1" fill="#FFA500"/>
<circle cx="631.2" cy="89.8" r="2.1" fill="#FFA500"/>
<circle cx="631.2" cy="92.8" r="2.1" fill="#FFA500"/>
<circle cx="633.0" cy="95.7" r="2.1" fill="#FFA500"/>
<circle cx="630.6" cy="98.1" r="2.1" fill="#FFA500"/>
<circle cx="630.9" cy="88.0" r="2.1" fill="#FFA500"/>
<circle cx="632.1" cy="91.0" r="2.1" fill="#FFA500"/>
<circle cx="630.3" cy="94.0" r="2.1" fill="#FFA500"/>
<circle cx="628.5" cy="97.0" r="2.1" fill="#FFA500"/>
<circle cx="626.7" cy="99.4" r="2.1" fill="#FFA500"/>
<circle cx="623.7" cy="97.0" r="2.1" fill="#FFA500"/>
<circle cx="624.3" cy="103.6" r="2.1" fill="#FFA500"/>
<circle cx="621.3" cy="105.4" r="2.1" fill="#FFA500"/>
<circle cx="619.0" cy="105.4" r="2.1" fill="#FFA500"/>
<circle cx="622.5" cy="107.8" r="2.1" fill="#FFA500"/>
<circle cx="616.0" cy="103.0" r="2.1" fill="#FFA500"/>
<circle cx="613.6" cy="105.4" r="2.1" fill="#FFA500"/>
<circle cx="616.6" cy="109.0" r="2.1" fill="#FFA500"/>
<circle cx="610.0" cy="98.2" r="2.1" fill="#FFA500"/>
<circle cx="607.0" cy="101.8" r="2.1" fill="#FFA500"/>
<circle cx="611.2" cy="109.0" r="2.1" fill="#FFA500"/>
<circle cx="608.8" cy="111.3" r="2.1" fill="#FFA500"/>
<circle cx="607.0" cy="113.7" r="2.1" fill="#FFA500"/>
<circle cx="616.6" cy="112.5" r="2.1" fill="#FFA500"/>
<circle cx="616.0" cy="115.5" r="2.1" fill="#FFA500"/>
<circle cx="615.4" cy="118.5" r="2.1" fill="#FFA500"/>
<circle cx="600.4" cy="124.5" r="2.1" fill="#FFA500"/>
<circle cx="608.2" cy="124.5" r="2.1" fill="#FFA500"/>
<circle cx="583.0" cy="102.9" r="2.1" fill="#FFA500"/>
<circle cx="589.0" cy="106.5" r="2.1" fill="#FFA500"/>
<circle cx="606.9" cy="101.7" r="2.1" fill="#FFA500"/>
<circle cx="589.0" cy="106.8" r="2.1" fill="#FFA500"/>
<circle cx="600.3" cy="125.1" r="2.1" fill="#FFA500"/>
<circle cx="590.7" cy="127.2" r="2.1" fill="#FFA500"/>
<circle cx="595.5" cy="129.6" r="2.1" fill="#FFA500"/>
<circle cx="597.9" cy="132.5" r="2.1" fill="#FFA500"/>
<circle cx="597.3" cy="134.3" r="2.1" fill="#FFA500"/>
<circle cx="592.0" cy="139.7" r="2.1" fill="#FFA500"/>
<circle cx="596.7" cy="144.5" r="2.1" fill="#FFA500"/>
<circle cx="592.0" cy="140.0" r="2.1" fill="#FFA500"/>
<circle cx="596.7" cy="145.4" r="2.1" fill="#FFA500"/>
<circle cx="589.6" cy="148.4" r="2.1" fill="#FFA500"/>
<path d="M649.0 45.7L654.6 47.9M650.7 44.0L652.9 49.6M652.9 44.0L650.7 49.6M654.6 45.7L649.0 47.9" stroke="#FFA500" stroke-width="1.0"/><circle cx="651.8" cy="46.8" r="1.9" fill="none" stroke="#FFA500" stroke-width="0.8"/>
<circle cx="658.8" cy="74.6" r="2.1" fill="#7FFA00"/>
<circle cx="664.9" cy="74.4" r="2.1" fill="#7FFA00"/>
<circle cx="654.7" cy="92.6" r="2.1" fill="#7FFA00"/>
<circle cx="667.5" cy="71.4" r="2.1" fill="#7FFA00"/>
<circle cx="657.7" cy="88.3" r="2.1" fill="#7FFA00"/>
<circle cx="652.7" cy="91.6" r="2.1" fill="#7FFA00"/>
<circle cx="658.7" cy="76.0" r="2.1" fill="#7FFA00"/>
<circle cx="670.4" cy="61.3" r="2.1" fill="#7FFA00"/>
<circle cx="671.1" cy="63.8" r="2.1" fill="#7FFA00"/>
<circle cx="666.9" cy="70.1" r="2.1" fill="#7FFA00"/>
<circle cx="645.8" cy="101.8" r="2.1" fill="#7FFA00"/>
<circle cx="663.8" cy="73.9" r="2.1" fill="#7FFA00"/>
<circle cx="671.4" cy="64.4" r="2.1" fill="#7FFA00"/>
<circle cx="677.5" cy="54.6" r="2.1" fill="#7FFA00"/>
<circle cx="657.2" cy="81.4" r="2.1" fill="#7FFA00"/>
<circle cx="647.6" cy="95.6" r="2.1" fill="#7FFA00"/>
<circle cx="635.4" cy="100.3" r="2.1" fill="#7FFA00"/>
<circle cx="664.4" cy="77.9" r="2.1" fill="#7FFA00"/>
<circle cx="663.8" cy="81.3" r="2.1" fill="#7FFA00"/>
<circle cx="656.9" cy="80.5" r="2.1" fill="#7FFA00"/>
<circle cx="643.5" cy="102.1" r="2.1" fill="#7FFA00"/>
<circle cx="632.5" cy="100.8" r="2.1" fill="#7FFA00"/>
<circle cx="649.8" cy="97.4" r="2.1" fill="#7FFA00"/>
<circle cx="652.8" cy="82.1" r="2.1" fill="#7FFA00"/>
<circle cx="641.7" cy="99.4" r="2.1" fill="#7FFA00"/>
<circle cx="657.4" cy="75.6" r="2.1" fill="#7FFA00"/>
<circle cx="672.6" cy="65.0" r="2.1" fill="#7FFA00"/>
<circle cx="672.2" cy="64.4" r="2.1" fill="#7FFA00"/>
<circle cx="635.6" cy="98.6" r="2.1" fill="#7FFA00"/>
<circle cx="648.6" cy="89.4" r="2.1" fill="#7FFA00"/>
<circle cx="675.4" cy="60.6" r="2.1" fill="#7FFA00"/>
<circle cx="652.4" cy="91.1" r="2.1" fill="#7FFA00"/>
<circle cx="672.6" cy="62.0" r="2.1" fill="#7FFA00"/>
<circle cx="660.2" cy="80.9" r="2.1" fill="#7FFA00"/>
<circle cx="646.8" cy="87.8" r="2.1" fill="#7FFA00"/>
<circle cx="644.2" cy="101.4" r="2.1" fill="#7FFA00"/>
<circle cx="644.4" cy="88.9" r="2.1" fill="#7FFA00"/>
<circle cx="660.4" cy="74.8" r="2.1" fill="#7FFA00"/>
<circle cx="671.7" cy="72.7" r="2.1" fill="#7FFA00"/>
<circle cx="658.6" cy="79.8" r="2.1" fill="#7FFA00"/>
<circle cx="644.1" cy="86.0" r="2.1" fill="#7FFA00"/>
<circle cx="653.7" cy="81.7" r="2.1" fill="#7FFA00"/>
<circle cx="669.1" cy="67.1" r="2.1" fill="#7FFA00"/>
<circle cx="678.1" cy="51.3" r="2.1" fill="#7FFA00"/>
<circle cx="674.9" cy="58.9" r="2.1" fill="#7FFA00"/>
<circle cx="638.3" cy="92.6" r="2.1" fill="#7FFA00"/>
<circle cx="657.6" cy="83.2" r="2.1" fill="#7FFA00"/>
<circle cx="646.4" cy="83.9" r="2.1" fill="#7FFA00"/>
<circle cx="649.5" cy="99.5" r="2.1" fill="#7FFA00"/>
<circle cx="671.3" cy="62.1" r="2.1" fill="#7FFA00"/>
<circle cx="659.9" cy="74.8" r="2.1" fill="#7FFA00"/>
<circle cx="655.2" cy="81.1" r="2.1" fill="#7FFA00"/>
<circle cx="676.2" cy="65.4" r="2.1" fill="#7FFA00"/>
<circle cx="666.4" cy="76.9" r="2.1" fill="#7FFA00"/>
<circle cx="668.5" cy="69.6" r="2.1" fill="#7FFA00"/>
<circle cx="653.0" cy="96.0" r="2.1" fill="#7FFA00"/>
<circle cx="649.0" cy="88.7" r="2.1" fill="#7FFA00"/>
<circle cx="647.6" cy="92.5" r="2.1" fill="#7FFA00"/>
<circle cx="637.1" cy="101.0" r="2.1" fill="#7FFA00"/>
<circle cx="677.1" cy="51.4" r="2.1" fill="#7FFA00"/>
<circle cx="676.1" cy="58.3" r="2.1" fill="#7FFA00"/>
<circle cx="661.1" cy="86.0" r="2.1" fill="#7FFA00"/>
<circle cx="648.8" cy="92.9" r="2.1" fill="#7FFA00"/>
<circle cx="674.1" cy="64.3" r="2.1" fill="#7FFA00"/>
<circle cx="679.1" cy="58.6" r="2.1" fill="#7FFA00"/>
<circle cx="666.1" cy="69.7" r="2.1" fill="#7FFA00"/>
<circle cx="656.3" cy="84.1" r="2.1" fill="#7FFA00"/>
<circle cx="673.0" cy="70.6" r="2.1" fill="#7FFA00"/>
<circle cx="666.9" cy="76.4" r="2.1" fill="#7FFA00"/>
<circle cx="652.8" cy="92.2" r="2.1" fill="#7FFA00"/>
<circle cx="669.9" cy="64.8" r="2.1" fill="#7FFA00"/>
<circle cx="659.8" cy="75.2" r="2.1" fill="#7FFA00"/>
<circle cx="637.4" cy="98.2" r="2.1" fill="#7FFA00"/>
<circle cx="647.3" cy="92.8" r="2.1" fill="#7FFA00"/>
<circle cx="673.0" cy="65.7" r="2.1" fill="#7FFA00"/>
<circle cx="653.8" cy="79.5" r="2.1" fill="#7FFA00"/>
<circle cx="664.4" cy="68.2" r="2.1" fill="#7FFA00"/>
<circle cx="644.2" cy="95.6" r="2.1" fill="#7FFA00"/>
<circle cx="673.2" cy="73.0" r="2.1" fill="#7FFA00"/>
<circle cx="657.7" cy="90.1" r="2.1" fill="#7FFA00"/>
<circle cx="674.9" cy="62.8" r="2.1" fill="#7FFA00"/>
<circle cx="645.7" cy="99.9" r="2.1" fill="#7FFA00"/>
<circle cx="658.2" cy="82.3" r="2.1" fill="#7FFA00"/>
<circle cx="670.3" cy="76.1" r="2.1" fill="#7FFA00"/>
<circle cx="651.8" cy="87.3" r="2.1" fill="#7FFA00"/>
<circle cx="645.6" cy="93.9" r="2.1" fill="#7FFA00"/>
<circle cx="657.5" cy="76.6" r="2.1" fill="#7FFA00"/>
<circle cx="668.7" cy="71.7" r="2.1" fill="#7FFA00"/>
<circle cx="677.0" cy="58.7" r="2.1" fill="#7FFA00"/>
<circle cx="665.4" cy="75.1" r="2.1" fill="#7FFA00"/>
<circle cx="657.7" cy="79.2" r="2.1" fill="#7FFA00"/>
<circle cx="660.0" cy="73.3" r="2.1" fill="#7FFA00"/>
<circle cx="665.9" cy="72.6" r="2.1" fill="#7FFA00"/>
<circle cx="670.2" cy="69.9" r="2.1" fill="#7FFA00"/>
<circle cx="647.8" cy="90.6" r="2.1" fill="#7FFA00"/>
<circle cx="640.2" cy="99.3" r="2.1" fill="#7FFA00"/>
<circle cx="653.5" cy="92.7" r="2.1" fill="#7FFA00"/>
<circle cx="646.4" cy="98.0" r="2.1" fill="#7FFA00"/>
<circle cx="641.9" cy="89.4" r="2.1" fill="#7FFA00"/>
<circle cx="647.4" cy="84.2" r="2.1" fill="#7FFA00"/>
<circle cx="650.8" cy="91.3" r="2.1" fill="#7FFA00"/>
<circle cx="661.7" cy="79.9" r="2.1" fill="#7FFA00"/>
<circle cx="662.4" cy="79.1" r="2.1" fill="#7FFA00"/>
<circle cx="663.3" cy="75.4" r="2.1" fill="#7FFA00"/>
<circle cx="653.6" cy="94.3" r="2.1" fill="#7FFA00"/>
<circle cx="669.1" cy="72.7" r="2.1" fill="#7FFA00"/>
<circle cx="649.4" cy="98.1" r="2.1" fill="#7FFA00"/>
<circle cx="655.8" cy="76.7" r="2.1" fill="#7FFA00"/>
<circle cx="637.6" cy="95.5" r="2.1" fill="#7FFA00"/>
<circle cx="630.8" cy="104.0" r="2.1" fill="#7FFA00"/>
<circle cx="662.3" cy="83.9" r="2.1" fill="#7FFA00"/>
<circle cx="668.0" cy="69.2" r="2.1" fill="#7FFA00"/>
<circle cx="672.3" cy="68.7" r="2.1" fill="#7FFA00"/>
<circle cx="673.3" cy="57.9" r="2.1" fill="#7FFA00"/>
<circle cx="667.6" cy="69.2" r="2.1" fill="#7FFA00"/>
<circle cx="640.1" cy="94.2" r="2.1" fill="#7FFA00"/>
<circle cx="665.7" cy="76.8" r="2.1" fill="#7FFA00"/>
<circle cx="635.5" cy="101.6" r="2.1" fill="#7FFA00"/>
<circle cx="673.0" cy="71.4" r="2.1" fill="#7FFA00"/>
<circle cx="660.6" cy="77.3" r="2.1" fill="#7FFA00"/>
<circle cx="672.4" cy="67.9" r="2.1" fill="#7FFA00"/>
<circle cx="653.1" cy="85.1" r="2.1" fill="#7FFA00"/>
<circle cx="656.6" cy="90.1" r="2.1" fill="#7FFA00"/>
<circle cx="668.7" cy="78.0" r="2.1" fill="#7FFA00"/>
<circle cx="661.1" cy="73.0" r="2.1" fill="#7FFA00"/>
<circle cx="650.9" cy="80.7" r="2.1" fill="#7FFA00"/>
<circle cx="654.5" cy="81.6" r="2.1" fill="#7FFA00"/>
<circle cx="645.7" cy="92.6" r="2.1" fill="#7FFA00"/>
<circle cx="654.7" cy="81.3" r="2.1" fill="#7FFA00"/>
<circle cx="661.5" cy="74.4" r="2.1" fill="#7FFA00"/>
<circle cx="678.7" cy="51.4" r="2.1" fill="#7FFA00"/>
<circle cx="678.1" cy="55.0" r="2.1" fill="#7FFA00"/>
<circle cx="677.5" cy="58.0" r="2.1" fill="#7FFA00"/>
<circle cx="678.7" cy="61.0" r="2.1" fill="#7FFA00"/>
<circle cx="677.0" cy="62.8" r="2.1" fill="#7FFA00"/>
<circle cx="672.2" cy="61.0" r="2.1" fill="#7FFA00"/>
<circle cx="671.0" cy="63.4" r="2.1" fill="#7FFA00"/>
<circle cx="674.0" cy="65.1" r="2.1" fill="#7FFA00"/>
<circle cx="669.2" cy="67.0" r="2.1" fill="#7FFA00"/>
<circle cx="666.8" cy="68.1" r="2.1" fill="#7FFA00"/>
<circle cx="664.4" cy="70.0" r="2.1" fill="#7FFA00"/>
<circle cx="662.0" cy="69.3" r="2.1" fill="#7FFA00"/>
<circle cx="660.2" cy="71.7" r="2.1" fill="#7FFA00"/>
<circle cx="657.2" cy="74.1" r="2.1" fill="#7FFA00"/>
<circle cx="654.8" cy="75.9" r="2.1" fill="#7FFA00"/>
<circle cx="662.0" cy="74.7" r="2.1" fill="#7FFA00"/>
<circle cx="665.6" cy="73.5" r="2.1" fill="#7FFA00"/>
<circle cx="664.4" cy="78.3" r="2.1" fill="#7FFA00"/>
<circle cx="659.6" cy="78.3" r="2.1" fill="#7FFA00"/>
<circle cx="656.0" cy="78.9" r="2.1" fill="#7FFA00"/>
<circle cx="652.4" cy="78.3" r="2.1" fill="#7FFA00"/>
<circle cx="632.1" cy="103.0" r="2.1" fill="#7FFA00"/>
<circle cx="633.3" cy="107.2" r="2.1" fill="#7FFA00"/>
<circle cx="626.7" cy="107.8" r="2.1" fill="#7FFA00"/>
<circle cx="619.0" cy="117.3" r="2.1" fill="#7FFA00"/>
<circle cx="629.1" cy="116.1" r="2.1" fill="#7FFA00"/>
<circle cx="630.3" cy="119.7" r="2.1" fill="#7FFA00"/>
<circle cx="598.5" cy="147.2" r="2.1" fill="#7FFA00"/>
<circle cx="588.4" cy="158.6" r="2.1" fill="#7FFA00"/>
<circle cx="616.3" cy="130.9" r="2.1" fill="#7FFA00"/>
<circle cx="597.7" cy="205.7" r="2.1" fill="#7FFA00"/>
<circle cx="629.5" cy="116.6" r="2.1" fill="#7FFA00"/>
<circle cx="618.7" cy="117.8" r="2.1" fill="#7FFA00"/>
<circle cx="606.8" cy="166.1" r="2.1" fill="#1D8FF8"/>
<circle cx="575.0" cy="191.6" r="2.1" fill="#1D8FF8"/>
<circle cx="635.5" cy="136.5" r="2.1" fill="#1D8FF8"/>
<circle cx="637.1" cy="127.1" r="2.1" fill="#1D8FF8"/>
<circle cx="616.2" cy="154.6" r="2.1" fill="#1D8FF8"/>
<circle cx="583.8" cy="183.7" r="2.1" fill="#1D8FF8"/>
<circle cx="575.8" cy="209.9" r="2.1" fill="#1D8FF8"/>
<circle cx="584.3" cy="205.9" r="2.1" fill="#1D8FF8"/>
<circle cx="570.4" cy="207.2" r="2.1" fill="#1D8FF8"/>
<circle cx="588.0" cy="180.9" r="2.1" fill="#1D8FF8"/>
<circle cx="589.6" cy="193.0" r="2.1" fill="#1D8FF8"/>
<circle cx="619.5" cy="138.9" r="2.1" fill="#1D8FF8"/>
<circle cx="582.4" cy="182.5" r="2.1" fill="#1D8FF8"/>
<circle cx="621.1" cy="137.6" r="2.1" fill="#1D8FF8"/>
<circle cx="598.0" cy="178.9" r="2.1" fill="#1D8FF8"/>
<circle cx="622.0" cy="148.0" r="2.1" fill="#1D8FF8"/>
<circle cx="593.5" cy="178.2" r="2.1" fill="#1D8FF8"/>
<circle cx="595.8" cy="176.9" r="2.1" fill="#1D8FF8"/>
<circle cx="618.3" cy="141.3" r="2.1" fill="#1D8FF8"/>
<circle cx="643.8" cy="113.2" r="2.1" fill="#1D8FF8"/>
<circle cx="594.2" cy="189.7" r="2.1" fill="#1D8FF8"/>
<circle cx="640.0" cy="133.2" r="2.1" fill="#1D8FF8"/>
<circle cx="622.4" cy="154.5" r="2.1" fill="#1D8FF8"/>
<circle cx="627.2" cy="129.3" r="2.1" fill="#1D8FF8"/>
<circle cx="629.8" cy="127.3" r="2.1" fill="#1D8FF8"/>
<circle cx="646.7" cy="117.9" r="2.1" fill="#1D8FF8"/>
<circle cx="600.2" cy="167.0" r="2.1" fill="#1D8FF8"/>
<circle cx="585.8" cy="200.8" r="2.1" fill="#1D8FF8"/>
<circle cx="638.2" cy="115.5" r="2.1" fill="#1D8FF8"/>
<circle cx="637.4" cy="126.6" r="2.1" fill="#1D8FF8"/>
<circle cx="650.5" cy="117.8" r="2.1" fill="#1D8FF8"/>
<circle cx="592.5" cy="183.3" r="2.1" fill="#1D8FF8"/>
<circle cx="585.3" cy="195.8" r="2.1" fill="#1D8FF8"/>
<circle cx="614.2" cy="160.3" r="2.1" fill="#1D8FF8"/>
<circle cx="616.5" cy="159.1" r="2.1" fill="#1D8FF8"/>
<circle cx="614.4" cy="151.2" r="2.1" fill="#1D8FF8"/>
<circle cx="648.4" cy="122.2" r="2.1" fill="#1D8FF8"/>
<circle cx="627.5" cy="141.9" r="2.1" fill="#1D8FF8"/>
<circle cx="598.3" cy="172.2" r="2.1" fill="#1D8FF8"/>
<circle cx="613.7" cy="153.6" r="2.1" fill="#1D8FF8"/>
<circle cx="645.1" cy="122.7" r="2.1" fill="#1D8FF8"/>
<circle cx="588.1" cy="183.1" r="2.1" fill="#1D8FF8"/>
<circle cx="636.5" cy="121.9" r="2.1" fill="#1D8FF8"/>
<circle cx="602.4" cy="178.9" r="2.1" fill="#1D8FF8"/>
<circle cx="615.5" cy="161.5" r="2.1" fill="#1D8FF8"/>
<circle cx="648.6" cy="118.7" r="2.1" fill="#1D8FF8"/>
<circle cx="572.5" cy="206.1" r="2.1" fill="#1D8FF8"/>
<circle cx="612.3" cy="152.9" r="2.1" fill="#1D8FF8"/>
<circle cx="622.4" cy="150.3" r="2.1" fill="#1D8FF8"/>
<circle cx="625.6" cy="143.5" r="2.1" fill="#1D8FF8"/>
<circle cx="613.9" cy="148.7" r="2.1" fill="#1D8FF8"/>
<circle cx="653.2" cy="111.3" r="2.1" fill="#1D8FF8"/>
<circle cx="615.4" cy="160.8" r="2.1" fill="#1D8FF8"/>
<circle cx="638.2" cy="116.8" r="2.1" fill="#1D8FF8"/>
<circle cx="571.0" cy="203.9" r="2.1" fill="#1D8FF8"/>
<circle cx="592.0" cy="182.1" r="2.1" fill="#1D8FF8"/>
<circle cx="580.8" cy="186.0" r="2.1" fill="#1D8FF8"/>
<circle cx="573.5" cy="201.4" r="2.1" fill="#1D8FF8"/>
<circle cx="604.8" cy="157.7" r="2.1" fill="#1D8FF8"/>
<circle cx="621.9" cy="155.5" r="2.1" fill="#1D8FF8"/>
<circle cx="618.2" cy="151.8" r="2.1" fill="#1D8FF8"/>
<circle cx="631.6" cy="133.3" r="2.1" fill="#1D8FF8"/>
<circle cx="577.0" cy="200.1" r="2.1" fill="#1D8FF8"/>
<circle cx="633.3" cy="128.4" r="2.1" fill="#1D8FF8"/>
<circle cx="599.8" cy="157.8" r="2.1" fill="#1D8FF8"/>
<circle cx="634.7" cy="130.7" r="2.1" fill="#1D8FF8"/>
<circle cx="595.6" cy="165.0" r="2.1" fill="#1D8FF8"/>
<circle cx="575.5" cy="198.3" r="2.1" fill="#1D8FF8"/>
<circle cx="616.7" cy="158.5" r="2.1" fill="#1D8FF8"/>
<circle cx="627.3" cy="139.5" r="2.1" fill="#1D8FF8"/>
<circle cx="598.5" cy="183.0" r="2.1" fill="#1D8FF8"/>
<circle cx="582.5" cy="186.4" r="2.1" fill="#1D8FF8"/>
<circle cx="637.8" cy="115.5" r="2.1" fill="#1D8FF8"/>
<circle cx="579.7" cy="185.1" r="2.1" fill="#1D8FF8"/>
<circle cx="624.1" cy="134.0" r="2.1" fill="#1D8FF8"/>
<circle cx="586.4" cy="187.1" r="2.1" fill="#1D8FF8"/>
<circle cx="610.4" cy="163.8" r="2.1" fill="#1D8FF8"/>
<circle cx="635.3" cy="127.3" r="2.1" fill="#1D8FF8"/>
<circle cx="587.7" cy="182.2" r="2.1" fill="#1D8FF8"/>
<circle cx="582.2" cy="186.3" r="2.1" fill="#1D8FF8"/>
<circle cx="589.9" cy="199.5" r="2.1" fill="#1D8FF8"/>
<circle cx="571.4" cy="205.6" r="2.1" fill="#1D8FF8"/>
<circle cx="613.4" cy="161.6" r="2.1" fill="#1D8FF8"/>
<circle cx="624.9" cy="133.2" r="2.1" fill="#1D8FF8"/>
<circle cx="580.3" cy="187.6" r="2.1" fill="#1D8FF8"/>
<circle cx="609.2" cy="156.8" r="2.1" fill="#1D8FF8"/>
<circle cx="647.7" cy="118.3" r="2.1" fill="#1D8FF8"/>
<circle cx="639.7" cy="130.3" r="2.1" fill="#1D8FF8"/>
<circle cx="614.8" cy="162.6" r="2.1" fill="#1D8FF8"/>
<circle cx="580.9" cy="193.9" r="2.1" fill="#1D8FF8"/>
<circle cx="598.7" cy="179.1" r="2.1" fill="#1D8FF8"/>
<circle cx="629.5" cy="133.2" r="2.1" fill="#1D8FF8"/>
<circle cx="616.6" cy="155.7" r="2.1" fill="#1D8FF8"/>
<circle cx="637.4" cy="130.1" r="2.1" fill="#1D8FF8"/>
<circle cx="621.2" cy="138.6" r="2.1" fill="#1D8FF8"/>
<circle cx="600.1" cy="164.1" r="2.1" fill="#1D8FF8"/>
<circle cx="601.5" cy="177.0" r="2.1" fill="#1D8FF8"/>
<circle cx="631.4" cy="142.6" r="2.1" fill="#1D8FF8"/>
<circle cx="630.7" cy="142.8" r="2.1" fill="#1D8FF8"/>
<circle cx="639.8" cy="118.4" r="2.1" fill="#1D8FF8"/>
<circle cx="597.1" cy="175.4" r="2.1" fill="#1D8FF8"/>
<circle cx="580.9" cy="187.2" r="2.1" fill="#1D8FF8"/>
<circle cx="584.4" cy="205.4" r="2.1" fill="#1D8FF8"/>
<circle cx="577.9" cy="208.3" r="2.1" fill="#1D8FF8"/>
<circle cx="578.9" cy="201.2" r="2.1" fill="#1D8FF8"/>
<circle cx="577.8" cy="193.1" r="2.1" fill="#1D8FF8"/>
<circle cx="640.1" cy="127.9" r="2.1" fill="#1D8FF8"/>
<circle cx="624.9" cy="140.4" r="2.1" fill="#1D8FF8"/>
<circle cx="600.6" cy="169.4" r="2.1" fill="#1D8FF8"/>
<circle cx="617.0" cy="142.9" r="2.1" fill="#1D8FF8"/>
<circle cx="608.4" cy="151.0" r="2.1" fill="#1D8FF8"/>
<circle cx="603.0" cy="153.3" r="2.1" fill="#1D8FF8"/>
<circle cx="613.3" cy="162.6" r="2.1" fill="#1D8FF8"/>
<circle cx="633.2" cy="140.1" r="2.1" fill="#1D8FF8"/>
<circle cx="611.2" cy="149.5" r="2.1" fill="#1D8FF8"/>
<circle cx="586.5" cy="185.2" r="2.1" fill="#1D8FF8"/>
<circle cx="575.7" cy="189.8" r="2.1" fill="#1D8FF8"/>
<circle cx="569.7" cy="200.6" r="2.1" fill="#1D8FF8"/>
<circle cx="583.9" cy="198.8" r="2.1" fill="#1D8FF8"/>
<circle cx="630.9" cy="140.9" r="2.1" fill="#1D8FF8"/>
<circle cx="629.5" cy="129.0" r="2.1" fill="#1D8FF8"/>
<circle cx="599.8" cy="176.5" r="2.1" fill="#1D8FF8"/>
<circle cx="591.4" cy="174.3" r="2.1" fill="#1D8FF8"/>
<circle cx="574.9" cy="209.3" r="2.1" fill="#1D8FF8"/>
<circle cx="605.8" cy="162.9" r="2.1" fill="#1D8FF8"/>
<circle cx="619.8" cy="138.0" r="2.1" fill="#1D8FF8"/>
<circle cx="589.1" cy="190.9" r="2.1" fill="#1D8FF8"/>
<circle cx="633.5" cy="134.1" r="2.1" fill="#1D8FF8"/>
<circle cx="583.4" cy="200.5" r="2.1" fill="#1D8FF8"/>
<circle cx="653.9" cy="112.4" r="2.1" fill="#1D8FF8"/>
<circle cx="598.6" cy="176.1" r="2.1" fill="#1D8FF8"/>
<circle cx="635.6" cy="125.8" r="2.1" fill="#1D8FF8"/>
<circle cx="605.2" cy="154.1" r="2.1" fill="#1D8FF8"/>
<circle cx="590.1" cy="190.4" r="2.1" fill="#1D8FF8"/>
<circle cx="573.4" cy="201.5" r="2.1" fill="#1D8FF8"/>
<circle cx="636.7" cy="133.3" r="2.1" fill="#1D8FF8"/>
<circle cx="574.8" cy="192.7" r="2.1" fill="#1D8FF8"/>
<circle cx="652.4" cy="113.3" r="2.1" fill="#1D8FF8"/>
<circle cx="645.3" cy="123.4" r="2.1" fill="#1D8FF8"/>
<circle cx="597.2" cy="179.9" r="2.1" fill="#1D8FF8"/>
<circle cx="642.9" cy="129.9" r="2.1" fill="#1D8FF8"/>
<circle cx="627.8" cy="146.0" r="2.1" fill="#1D8FF8"/>
<circle cx="629.9" cy="136.4" r="2.1" fill="#1D8FF8"/>
<circle cx="574.3" cy="199.0" r="2.1" fill="#1D8FF8"/>
<circle cx="595.6" cy="187.6" r="2.1" fill="#1D8FF8"/>
<circle cx="629.2" cy="135.6" r="2.1" fill="#1D8FF8"/>
<circle cx="591.7" cy="181.7" r="2.1" fill="#1D8FF8"/>
<circle cx="586.0" cy="179.3" r="2.1" fill="#1D8FF8"/>
<circle cx="602.4" cy="157.5" r="2.1" fill="#1D8FF8"/>
<circle cx="618.6" cy="156.8" r="2.1" fill="#1D8FF8"/>
<circle cx="590.0" cy="177.1" r="2.1" fill="#1D8FF8"/>
<circle cx="598.9" cy="167.8" r="2.1" fill="#1D8FF8"/>
<circle cx="591.3" cy="193.6" r="2.1" fill="#1D8FF8"/>
<circle cx="647.0" cy="112.9" r="2.1" fill="#1D8FF8"/>
<circle cx="626.9" cy="132.9" r="2.1" fill="#1D8FF8"/>
<circle cx="594.6" cy="182.0" r="2.1" fill="#1D8FF8"/>
<circle cx="610.2" cy="166.5" r="2.1" fill="#1D8FF8"/>
<circle cx="581.3" cy="197.4" r="2.1" fill="#1D8FF8"/>
<circle cx="643.5" cy="114.5" r="2.1" fill="#1D8FF8"/>
<circle cx="630.0" cy="134.7" r="2.1" fill="#1D8FF8"/>
<circle cx="630.0" cy="142.3" r="2.1" fill="#1D8FF8"/>
<circle cx="596.4" cy="186.4" r="2.1" fill="#1D8FF8"/>
<circle cx="616.9" cy="151.9" r="2.1" fill="#1D8FF8"/>
<circle cx="625.9" cy="132.6" r="2.1" fill="#1D8FF8"/>
<circle cx="622.6" cy="149.5" r="2.1" fill="#1D8FF8"/>
<circle cx="592.2" cy="183.6" r="2.1" fill="#1D8FF8"/>
<circle cx="614.7" cy="158.3" r="2.1" fill="#1D8FF8"/>
<circle cx="637.4" cy="124.0" r="2.1" fill="#1D8FF8"/>
<circle cx="622.0" cy="136.9" r="2.1" fill="#1D8FF8"/>
<circle cx="584.8" cy="197.5" r="2.1" fill="#1D8FF8"/>
<circle cx="609.6" cy="151.3" r="2.1" fill="#1D8FF8"/>
<circle cx="630.8" cy="126.9" r="2.1" fill="#1D8FF8"/>
<circle cx="651.4" cy="110.1" r="2.1" fill="#1D8FF8"/>
<circle cx="629.1" cy="134.6" r="2.1" fill="#1D8FF8"/>
<circle cx="647.0" cy="111.4" r="2.1" fill="#1D8FF8"/>
<circle cx="599.1" cy="174.1" r="2.1" fill="#1D8FF8"/>
<circle cx="632.3" cy="130.6" r="2.1" fill="#1D8FF8"/>
<circle cx="585.0" cy="198.8" r="2.1" fill="#1D8FF8"/>
<circle cx="595.2" cy="185.9" r="2.1" fill="#1D8FF8"/>
<circle cx="576.5" cy="209.7" r="2.1" fill="#1D8FF8"/>
<circle cx="629.1" cy="127.1" r="2.1" fill="#1D8FF8"/>
<circle cx="591.1" cy="178.1" r="2.1" fill="#1D8FF8"/>
<circle cx="622.9" cy="147.6" r="2.1" fill="#1D8FF8"/>
<circle cx="611.4" cy="166.9" r="2.1" fill="#1D8FF8"/>
<circle cx="577.0" cy="194.4" r="2.1" fill="#1D8FF8"/>
<circle cx="625.6" cy="151.8" r="2.1" fill="#1D8FF8"/>
<circle cx="622.2" cy="154.6" r="2.1" fill="#1D8FF8"/>
<circle cx="631.9" cy="140.9" r="2.1" fill="#1D8FF8"/>
<circle cx="589.1" cy="191.3" r="2.1" fill="#1D8FF8"/>
<circle cx="607.0" cy="163.7" r="2.1" fill="#1D8FF8"/>
<circle cx="643.2" cy="129.0" r="2.1" fill="#1D8FF8"/>
<circle cx="591.6" cy="174.7" r="2.1" fill="#1D8FF8"/>
<circle cx="588.3" cy="190.6" r="2.1" fill="#1D8FF8"/>
<circle cx="637.1" cy="124.5" r="2.1" fill="#1D8FF8"/>
<circle cx="573.3" cy="209.8" r="2.1" fill="#1D8FF8"/>
<circle cx="622.4" cy="137.4" r="2.1" fill="#1D8FF8"/>
<circle cx="603.0" cy="155.6" r="2.1" fill="#1D8FF8"/>
<circle cx="597.5" cy="180.8" r="2.1" fill="#1D8FF8"/>
<circle cx="592.8" cy="179.9" r="2.1" fill="#1D8FF8"/>
<circle cx="626.1" cy="134.0" r="2.1" fill="#1D8FF8"/>
<circle cx="575.7" cy="200.4" r="2.1" fill="#1D8FF8"/>
<circle cx="600.0" cy="182.8" r="2.1" fill="#1D8FF8"/>
<circle cx="625.9" cy="144.1" r="2.1" fill="#1D8FF8"/>
<circle cx="602.3" cy="175.9" r="2.1" fill="#1D8FF8"/>
<circle cx="589.3" cy="191.7" r="2.1" fill="#1D8FF8"/>
<circle cx="614.2" cy="163.4" r="2.1" fill="#1D8FF8"/>
<circle cx="576.8" cy="189.5" r="2.1" fill="#1D8FF8"/>
<circle cx="635.4" cy="134.2" r="2.1" fill="#1D8FF8"/>
<circle cx="616.1" cy="155.9" r="2.1" fill="#1D8FF8"/>
<circle cx="641.9" cy="119.6" r="2.1" fill="#1D8FF8"/>
<circle cx="641.8" cy="124.8" r="2.1" fill="#1D8FF8"/>
<circle cx="602.8" cy="171.4" r="2.1" fill="#1D8FF8"/>
<circle cx="580.5" cy="192.5" r="2.1" fill="#1D8FF8"/>
<circle cx="576.8" cy="202.7" r="2.1" fill="#1D8FF8"/>
<circle cx="632.1" cy="135.3" r="2.1" fill="#1D8FF8"/>
<circle cx="604.9" cy="155.0" r="2.1" fill="#1D8FF8"/>
<circle cx="615.2" cy="149.8" r="2.1" fill="#1D8FF8"/>
<circle cx="652.0" cy="109.7" r="2.1" fill="#1D8FF8"/>
<circle cx="599.2" cy="170.0" r="2.1" fill="#1D8FF8"/>
<circle cx="592.1" cy="178.3" r="2.1" fill="#1D8FF8"/>
<circle cx="574.5" cy="209.4" r="2.1" fill="#1D8FF8"/>
<circle cx="647.7" cy="116.6" r="2.1" fill="#1D8FF8"/>
<circle cx="606.4" cy="153.6" r="2.1" fill="#1D8FF8"/>
<circle cx="577.2" cy="194.1" r="2.1" fill="#1D8FF8"/>
<circle cx="577.9" cy="198.1" r="2.1" fill="#1D8FF8"/>
<circle cx="601.2" cy="167.6" r="2.1" fill="#1D8FF8"/>
<circle cx="618.4" cy="158.0" r="2.1" fill="#1D8FF8"/>
<circle cx="628.4" cy="132.8" r="2.1" fill="#1D8FF8"/>
<circle cx="590.0" cy="183.5" r="2.1" fill="#1D8FF8"/>
<circle cx="600.2" cy="182.1" r="2.1" fill="#1D8FF8"/>
<circle cx="605.1" cy="172.0" r="2.1" fill="#1D8FF8"/>
<circle cx="637.9" cy="119.0" r="2.1" fill="#1D8FF8"/>
<circle cx="636.0" cy="131.3" r="2.1" fill="#1D8FF8"/>
<circle cx="627.7" cy="146.1" r="2.1" fill="#1D8FF8"/>
<circle cx="631.0" cy="136.0" r="2.1" fill="#1D8FF8"/>
<circle cx="643.9" cy="125.3" r="2.1" fill="#1D8FF8"/>
<circle cx="635.2" cy="135.5" r="2.1" fill="#1D8FF8"/>
<circle cx="571.8" cy="204.5" r="2.1" fill="#1D8FF8"/>
<circle cx="599.6" cy="183.4" r="2.1" fill="#1D8FF8"/>
<circle cx="616.8" cy="144.6" r="2.1" fill="#1D8FF8"/>
<circle cx="576.7" cy="204.9" r="2.1" fill="#1D8FF8"/>
<circle cx="646.4" cy="119.4" r="2.1" fill="#1D8FF8"/>
<circle cx="643.7" cy="115.3" r="2.1" fill="#1D8FF8"/>
<circle cx="613.4" cy="145.1" r="2.1" fill="#1D8FF8"/>
<circle cx="609.9" cy="165.9" r="2.1" fill="#1D8FF8"/>
<circle cx="596.5" cy="180.6" r="2.1" fill="#1D8FF8"/>
<circle cx="649.1" cy="117.8" r="2.1" fill="#1D8FF8"/>
<circle cx="587.6" cy="199.0" r="2.1" fill="#1D8FF8"/>
<circle cx="588.0" cy="175.7" r="2.1" fill="#1D8FF8"/>
<circle cx="589.4" cy="198.5" r="2.1" fill="#1D8FF8"/>
<circle cx="647.5" cy="123.6" r="2.1" fill="#1D8FF8"/>
<circle cx="585.1" cy="198.6" r="2.1" fill="#1D8FF8"/>
<circle cx="650.3" cy="117.3" r="2.1" fill="#1D8FF8"/>
<circle cx="594.2" cy="186.6" r="2.1" fill="#1D8FF8"/>
<circle cx="607.5" cy="170.5" r="2.1" fill="#1D8FF8"/>
<circle cx="583.8" cy="205.3" r="2.1" fill="#1D8FF8"/>
<circle cx="653.1" cy="111.5" r="2.1" fill="#1D8FF8"/>
<circle cx="582.2" cy="184.1" r="2.1" fill="#1D8FF8"/>
<circle cx="586.3" cy="190.5" r="2.1" fill="#1D8FF8"/>
<circle cx="621.5" cy="146.7" r="2.1" fill="#1D8FF8"/>
<circle cx="603.7" cy="164.1" r="2.1" fill="#1D8FF8"/>
<circle cx="644.6" cy="125.6" r="2.1" fill="#1D8FF8"/>
<circle cx="630.7" cy="133.0" r="2.1" fill="#1D8FF8"/>
<circle cx="597.5" cy="166.1" r="2.1" fill="#1D8FF8"/>
<circle cx="612.2" cy="147.7" r="2.1" fill="#1D8FF8"/>
<circle cx="637.4" cy="132.9" r="2.1" fill="#1D8FF8"/>
<circle cx="611.3" cy="152.5" r="2.1" fill="#1D8FF8"/>
<circle cx="610.1" cy="158.2" r="2.1" fill="#1D8FF8"/>
<circle cx="592.6" cy="194.8" r="2.1" fill="#1D8FF8"/>
<circle cx="637.5" cy="127.0" r="2.1" fill="#1D8FF8"/>
<circle cx="576.6" cy="209.2" r="2.1" fill="#1D8FF8"/>
<circle cx="583.4" cy="179.8" r="2.1" fill="#1D8FF8"/>
<circle cx="637.0" cy="132.3" r="2.1" fill="#1D8FF8"/>
<circle cx="613.0" cy="158.8" r="2.1" fill="#1D8FF8"/>
<circle cx="614.1" cy="157.2" r="2.1" fill="#1D8FF8"/>
<circle cx="632.5" cy="134.5" r="2.1" fill="#1D8FF8"/>
<circle cx="598.3" cy="162.7" r="2.1" fill="#1D8FF8"/>
<circle cx="591.0" cy="182.4" r="2.1" fill="#1D8FF8"/>
<circle cx="631.0" cy="141.6" r="2.1" fill="#1D8FF8"/>
<circle cx="645.2" cy="114.7" r="2.1" fill="#1D8FF8"/>
<circle cx="602.5" cy="175.3" r="2.1" fill="#1D8FF8"/>
<circle cx="609.8" cy="169.0" r="2.1" fill="#1D8FF8"/>
<circle cx="586.4" cy="197.3" r="2.1" fill="#1D8FF8"/>
<circle cx="611.8" cy="150.9" r="2.1" fill="#1D8FF8"/>
<circle cx="589.7" cy="189.7" r="2.1" fill="#1D8FF8"/>
<circle cx="621.9" cy="150.9" r="2.1" fill="#1D8FF8"/>
<circle cx="593.7" cy="187.8" r="2.1" fill="#1D8FF8"/>
<circle cx="607.1" cy="157.3" r="2.1" fill="#1D8FF8"/>
<circle cx="602.3" cy="177.5" r="2.1" fill="#1D8FF8"/>
<circle cx="632.2" cy="139.2" r="2.1" fill="#1D8FF8"/>
<circle cx="605.3" cy="175.6" r="2.1" fill="#1D8FF8"/>
<circle cx="586.9" cy="187.6" r="2.1" fill="#1D8FF8"/>
<circle cx="597.1" cy="181.6" r="2.1" fill="#1D8FF8"/>
<circle cx="634.4" cy="135.5" r="2.1" fill="#1D8FF8"/>
<circle cx="584.3" cy="202.1" r="2.1" fill="#1D8FF8"/>
<circle cx="601.4" cy="169.2" r="2.1" fill="#1D8FF8"/>
<circle cx="589.1" cy="180.9" r="2.1" fill="#1D8FF8"/>
<circle cx="613.5" cy="159.5" r="2.1" fill="#1D8FF8"/>
<circle cx="592.4" cy="191.2" r="2.1" fill="#1D8FF8"/>
<circle cx="620.3" cy="156.0" r="2.1" fill="#1D8FF8"/>
<circle cx="598.0" cy="186.4" r="2.1" fill="#1D8FF8"/>
<circle cx="600.0" cy="176.0" r="2.1" fill="#1D8FF8"/>
<circle cx="585.6" cy="180.8" r="2.1" fill="#1D8FF8"/>
<circle cx="628.5" cy="143.4" r="2.1" fill="#1D8FF8"/>
<circle cx="580.2" cy="207.4" r="2.1" fill="#1D8FF8"/>
<circle cx="629.2" cy="131.0" r="2.1" fill="#1D8FF8"/>
<circle cx="587.1" cy="182.3" r="2.1" fill="#1D8FF8"/>
<circle cx="572.5" cy="194.8" r="2.1" fill="#1D8FF8"/>
<circle cx="594.3" cy="169.4" r="2.1" fill="#1D8FF8"/>
<circle cx="611.4" cy="156.8" r="2.1" fill="#1D8FF8"/>
<circle cx="613.5" cy="163.4" r="2.1" fill="#1D8FF8"/>
<circle cx="602.0" cy="165.4" r="2.1" fill="#1D8FF8"/>
<circle cx="614.8" cy="143.3" r="2.1" fill="#1D8FF8"/>
<circle cx="624.8" cy="130.9" r="2.1" fill="#1D8FF8"/>
<circle cx="623.0" cy="135.8" r="2.1" fill="#1D8FF8"/>
<circle cx="639.9" cy="127.8" r="2.1" fill="#1D8FF8"/>
<circle cx="649.3" cy="113.5" r="2.1" fill="#1D8FF8"/>
<circle cx="616.6" cy="148.1" r="2.1" fill="#1D8FF8"/>
<circle cx="639.5" cy="134.7" r="2.1" fill="#1D8FF8"/>
<circle cx="629.9" cy="127.9" r="2.1" fill="#1D8FF8"/>
<circle cx="622.3" cy="148.1" r="2.1" fill="#1D8FF8"/>
<circle cx="600.8" cy="163.2" r="2.1" fill="#1D8FF8"/>
<circle cx="583.7" cy="182.9" r="2.1" fill="#1D8FF8"/>
<circle cx="573.9" cy="197.2" r="2.1" fill="#1D8FF8"/>
<circle cx="647.6" cy="112.8" r="2.1" fill="#1D8FF8"/>
<circle cx="614.1" cy="147.3" r="2.1" fill="#1D8FF8"/>
<circle cx="611.7" cy="148.6" r="2.1" fill="#1D8FF8"/>
<circle cx="601.5" cy="164.3" r="2.1" fill="#1D8FF8"/>
<circle cx="600.7" cy="181.2" r="2.1" fill="#1D8FF8"/>
<circle cx="599.7" cy="181.1" r="2.1" fill="#1D8FF8"/>
<circle cx="646.9" cy="113.2" r="2.1" fill="#1D8FF8"/>
<circle cx="576.9" cy="208.9" r="2.1" fill="#1D8FF8"/>
<circle cx="598.9" cy="170.8" r="2.1" fill="#1D8FF8"/>
<circle cx="622.3" cy="137.5" r="2.1" fill="#1D8FF8"/>
<circle cx="595.4" cy="170.9" r="2.1" fill="#1D8FF8"/>
<circle cx="628.1" cy="128.4" r="2.1" fill="#1D8FF8"/>
<circle cx="641.7" cy="129.3" r="2.1" fill="#1D8FF8"/>
<circle cx="616.0" cy="143.6" r="2.1" fill="#1D8FF8"/>
<circle cx="630.0" cy="132.7" r="2.1" fill="#1D8FF8"/>
<circle cx="592.3" cy="188.0" r="2.1" fill="#1D8FF8"/>
<circle cx="611.8" cy="161.1" r="2.1" fill="#1D8FF8"/>
<circle cx="609.6" cy="149.6" r="2.1" fill="#1D8FF8"/>
<circle cx="579.7" cy="188.6" r="2.1" fill="#1D8FF8"/>
<circle cx="620.1" cy="157.0" r="2.1" fill="#1D8FF8"/>
<circle cx="573.5" cy="203.2" r="2.1" fill="#1D8FF8"/>
<circle cx="595.2" cy="182.8" r="2.1" fill="#1D8FF8"/>
<circle cx="623.7" cy="146.2" r="2.1" fill="#1D8FF8"/>
<circle cx="602.8" cy="175.1" r="2.1" fill="#1D8FF8"/>
<circle cx="599.2" cy="175.0" r="2.1" fill="#1D8FF8"/>
<circle cx="601.0" cy="174.6" r="2.1" fill="#1D8FF8"/>
<circle cx="575.9" cy="190.4" r="2.1" fill="#1D8FF8"/>
<circle cx="645.5" cy="117.6" r="2.1" fill="#1D8FF8"/>
<circle cx="589.4" cy="186.4" r="2.1" fill="#1D8FF8"/>
<circle cx="586.9" cy="198.5" r="2.1" fill="#1D8FF8"/>
<circle cx="619.7" cy="141.6" r="2.1" fill="#1D8FF8"/>
<circle cx="578.1" cy="191.4" r="2.1" fill="#1D8FF8"/>
<circle cx="613.6" cy="151.2" r="2.1" fill="#1D8FF8"/>
<circle cx="605.6" cy="156.5" r="2.1" fill="#1D8FF8"/>
<circle cx="575.2" cy="199.2" r="2.1" fill="#1D8FF8"/>
<circle cx="625.7" cy="151.1" r="2.1" fill="#1D8FF8"/>
<circle cx="581.0" cy="193.2" r="2.1" fill="#1D8FF8"/>
<circle cx="587.4" cy="200.8" r="2.1" fill="#1D8FF8"/>
<circle cx="588.2" cy="175.1" r="2.1" fill="#1D8FF8"/>
<circle cx="605.5" cy="155.6" r="2.1" fill="#1D8FF8"/>
<circle cx="629.6" cy="142.3" r="2.1" fill="#1D8FF8"/>
<circle cx="587.3" cy="182.8" r="2.1" fill="#1D8FF8"/>
<circle cx="636.6" cy="117.5" r="2.1" fill="#1D8FF8"/>
<circle cx="636.8" cy="135.7" r="2.1" fill="#1D8FF8"/>
<circle cx="637.8" cy="121.4" r="2.1" fill="#1D8FF8"/>
<circle cx="584.9" cy="200.6" r="2.1" fill="#1D8FF8"/>
<circle cx="589.3" cy="190.4" r="2.1" fill="#1D8FF8"/>
<circle cx="577.7" cy="195.6" r="2.1" fill="#1D8FF8"/>
<circle cx="579.7" cy="208.4" r="2.1" fill="#1D8FF8"/>
<circle cx="572.5" cy="221.7" r="2.1" fill="#1D8FF8"/>
<circle cx="585.7" cy="192.2" r="2.1" fill="#1D8FF8"/>
<circle cx="586.5" cy="191.4" r="2.1" fill="#1D8FF8"/>
<circle cx="581.7" cy="190.9" r="2.1" fill="#1D8FF8"/>
<circle cx="572.8" cy="223.5" r="2.1" fill="#1D8FF8"/>
<circle cx="579.6" cy="212.4" r="2.1" fill="#1D8FF8"/>
<circle cx="570.5" cy="222.7" r="2.1" fill="#1D8FF8"/>
<circle cx="574.8" cy="192.5" r="2.1" fill="#1D8FF8"/>
<circle cx="573.1" cy="209.5" r="2.1" fill="#1D8FF8"/>
<circle cx="574.1" cy="198.1" r="2.1" fill="#1D8FF8"/>
<circle cx="573.5" cy="204.8" r="2.1" fill="#1D8FF8"/>
<circle cx="584.0" cy="188.2" r="2.1" fill="#1D8FF8"/>
<circle cx="574.9" cy="208.6" r="2.1" fill="#1D8FF8"/>
<circle cx="570.3" cy="215.5" r="2.1" fill="#1D8FF8"/>
<circle cx="574.3" cy="199.8" r="2.1" fill="#1D8FF8"/>
<circle cx="579.2" cy="216.2" r="2.1" fill="#1D8FF8"/>
<circle cx="567.9" cy="215.2" r="2.1" fill="#1D8FF8"/>
<circle cx="574.2" cy="222.0" r="2.1" fill="#1D8FF8"/>
<circle cx="579.7" cy="198.2" r="2.1" fill="#1D8FF8"/>
<circle cx="573.6" cy="192.9" r="2.1" fill="#1D8FF8"/>
<circle cx="576.0" cy="195.3" r="2.1" fill="#1D8FF8"/>
<circle cx="577.3" cy="202.4" r="2.1" fill="#1D8FF8"/>
<circle cx="587.6" cy="191.1" r="2.1" fill="#1D8FF8"/>
<circle cx="567.9" cy="202.9" r="2.1" fill="#1D8FF8"/>
<circle cx="569.0" cy="218.9" r="2.1" fill="#1D8FF8"/>
<circle cx="573.0" cy="203.7" r="2.1" fill="#1D8FF8"/>
<circle cx="578.2" cy="214.5" r="2.1" fill="#1D8FF8"/>
<circle cx="577.9" cy="197.3" r="2.1" fill="#1D8FF8"/>
<circle cx="575.9" cy="191.7" r="2.1" fill="#1D8FF8"/>
<circle cx="575.2" cy="224.5" r="2.1" fill="#1D8FF8"/>
<circle cx="578.5" cy="199.2" r="2.1" fill="#1D8FF8"/>
<circle cx="574.8" cy="216.7" r="2.1" fill="#1D8FF8"/>
<circle cx="569.0" cy="209.3" r="2.1" fill="#1D8FF8"/>
<circle cx="573.7" cy="210.5" r="2.1" fill="#1D8FF8"/>
<circle cx="578.5" cy="208.1" r="2.1" fill="#1D8FF8"/>
<circle cx="583.3" cy="211.7" r="2.1" fill="#1D8FF8"/>
<circle cx="576.1" cy="214.1" r="2.1" fill="#1D8FF8"/>
<circle cx="580.9" cy="216.5" r="2.1" fill="#1D8FF8"/>
<circle cx="571.3" cy="217.7" r="2.1" fill="#1D8FF8"/>
<circle cx="565.4" cy="218.9" r="2.1" fill="#1D8FF8"/>
<circle cx="578.5" cy="221.3" r="2.1" fill="#1D8FF8"/>
<circle cx="573.7" cy="224.9" r="2.1" fill="#1D8FF8"/>
<circle cx="583.3" cy="223.7" r="2.1" fill="#1D8FF8"/>
<circle cx="586.9" cy="227.8" r="2.1" fill="#1D8FF8"/>
<circle cx="576.1" cy="228.5" r="2.1" fill="#1D8FF8"/>
<circle cx="569.0" cy="229.7" r="2.1" fill="#1D8FF8"/>
<circle cx="579.7" cy="230.9" r="2.1" fill="#1D8FF8"/>
<circle cx="574.9" cy="206.9" r="2.1" fill="#1D8FF8"/>
<circle cx="570.1" cy="212.9" r="2.1" fill="#1D8FF8"/>
<circle cx="585.7" cy="208.1" r="2.1" fill="#1D8FF8"/>
<circle cx="588.1" cy="203.3" r="2.1" fill="#1D8FF8"/>
<circle cx="566.6" cy="203.3" r="2.1" fill="#1D8FF8"/>
<circle cx="676.6" cy="68.9" r="2.1" fill="#1D8FF8"/>
<circle cx="674.9" cy="73.7" r="2.1" fill="#1D8FF8"/>
<circle cx="669.6" cy="80.4" r="2.1" fill="#1D8FF8"/>
<circle cx="672.0" cy="89.3" r="2.1" fill="#1D8FF8"/>
<circle cx="665.8" cy="95.3" r="2.1" fill="#1D8FF8"/>
<circle cx="659.3" cy="101.3" r="2.1" fill="#1D8FF8"/>
<circle cx="655.7" cy="102.5" r="2.1" fill="#1D8FF8"/>
<circle cx="642.6" cy="139.9" r="2.1" fill="#1D8FF8"/>
<circle cx="634.3" cy="165.7" r="2.1" fill="#1D8FF8"/>
<circle cx="611.8" cy="177.8" r="2.1" fill="#1D8FF8"/>
<circle cx="615.8" cy="184.5" r="2.1" fill="#1D8FF8"/>
<circle cx="592.3" cy="127.2" r="2.1" fill="#1D8FF8"/>
<circle cx="569.2" cy="168.1" r="2.1" fill="#1D8FF8"/>
<circle cx="584.8" cy="167.8" r="2.1" fill="#1D8FF8"/>
<circle cx="566.8" cy="177.7" r="2.1" fill="#1D8FF8"/>
<circle cx="580.0" cy="179.5" r="2.1" fill="#1D8FF8"/>
<circle cx="565.4" cy="187.0" r="2.1" fill="#1D8FF8"/>
<circle cx="564.2" cy="192.5" r="2.1" fill="#1D8FF8"/>
<circle cx="561.8" cy="202.8" r="2.1" fill="#1D8FF8"/>
<circle cx="567.8" cy="208.1" r="2.1" fill="#1D8FF8"/>
<circle cx="564.2" cy="218.9" r="2.1" fill="#1D8FF8"/>
<circle cx="564.2" cy="231.6" r="2.1" fill="#1D8FF8"/>
<circle cx="576.1" cy="222.5" r="2.1" fill="#1D8FF8"/>
<circle cx="577.3" cy="229.7" r="2.1" fill="#1D8FF8"/>
<circle cx="586.9" cy="227.8" r="2.1" fill="#1D8FF8"/>
<circle cx="573.7" cy="239.7" r="2.1" fill="#1D8FF8"/>
<circle cx="615.7" cy="184.2" r="2.1" fill="#1D8FF8"/>
<circle cx="612.1" cy="179.4" r="2.1" fill="#1D8FF8"/>
<circle cx="614.5" cy="205.7" r="2.1" fill="#1D8FF8"/>
<circle cx="600.0" cy="189.0" r="2.1" fill="#1D8FF8"/>
<circle cx="563.6" cy="231.5" r="2.1" fill="#1D8FF8"/>
<circle cx="568.6" cy="230.5" r="2.1" fill="#1D8FF8"/>
<circle cx="569.2" cy="226.3" r="2.1" fill="#1D8FF8"/>
<circle cx="581.8" cy="221.7" r="2.1" fill="#1D8FF8"/>
<circle cx="580.7" cy="229.4" r="2.1" fill="#1D8FF8"/>
<circle cx="575.5" cy="233.2" r="2.1" fill="#1D8FF8"/>
<circle cx="587.0" cy="227.3" r="2.1" fill="#1D8FF8"/>
<circle cx="572.4" cy="239.9" r="2.1" fill="#1D8FF8"/>
<circle cx="574.9" cy="240.9" r="2.1" fill="#1D8FF8"/>
<circle cx="562.5" cy="256.7" r="2.1" fill="#1D8FF8"/>
<circle cx="574.6" cy="267.1" r="2.1" fill="#1D8FF8"/>
<circle cx="546.0" cy="204.0" r="2.1" fill="#1D8FF8"/>
<circle cx="553.0" cy="200.0" r="2.1" fill="#1D8FF8"/>
<circle cx="677.0" cy="68.7" r="2.1" fill="#1D8FF8"/>
<circle cx="675.1" cy="73.3" r="2.1" fill="#1D8FF8"/>
<circle cx="669.8" cy="79.5" r="2.1" fill="#1D8FF8"/>
<circle cx="655.1" cy="85.6" r="2.1" fill="#1D8FF8"/>
<circle cx="666.0" cy="95.1" r="2.1" fill="#1D8FF8"/>
<circle cx="668.9" cy="80.2" r="2.1" fill="#1D8FF8"/>
<circle cx="658.7" cy="100.5" r="2.1" fill="#1D8FF8"/>
<circle cx="655.1" cy="101.7" r="2.1" fill="#1D8FF8"/>
<circle cx="652.8" cy="104.7" r="2.1" fill="#1D8FF8"/>
<circle cx="646.8" cy="107.1" r="2.1" fill="#1D8FF8"/>
<circle cx="656.3" cy="108.3" r="2.1" fill="#1D8FF8"/>
<circle cx="650.4" cy="109.5" r="2.1" fill="#1D8FF8"/>
<circle cx="630.9" cy="123.3" r="2.1" fill="#1D8FF8"/>
<circle cx="667.8" cy="95.0" r="2.1" fill="#1D8FF8"/>
<path d="M554.2 201.7L559.8 203.9M555.9 200.0L558.1 205.6M558.1 200.0L555.9 205.6M559.8 201.7L554.2 203.9" stroke="#1D8FF8" stroke-width="1.0"/><circle cx="557.0" cy="202.8" r="1.9" fill="none" stroke="#1D8FF8" stroke-width="0.8"/>
<path d="M556.6 229.8L562.2 232.0M558.3 228.1L560.5 233.7M560.5 228.1L558.3 233.7M562.2 229.8L556.6 232.0" stroke="#1D8FF8" stroke-width="1.0"/><circle cx="559.4" cy="230.9" r="1.9" fill="none" stroke="#1D8FF8" stroke-width="0.8"/>
<path d="M567.3 221.4L572.9 223.6M569.0 219.7L571.2 225.3M571.2 219.7L569.0 225.3M572.9 221.4L567.3 223.6" stroke="#1D8FF8" stroke-width="1.0"/><circle cx="570.1" cy="222.5" r="1.9" fill="none" stroke="#1D8FF8" stroke-width="0.8"/>
<path d="M576.9 239.3L582.5 241.5M578.6 237.6L580.8 243.2M580.8 237.6L578.6 243.2M582.5 239.3L576.9 241.5" stroke="#1D8FF8" stroke-width="1.0"/><circle cx="579.7" cy="240.4" r="1.9" fill="none" stroke="#1D8FF8" stroke-width="0.8"/>
<path d="M572.2 241.7L577.8 243.9M573.9 240.0L576.1 245.6M576.1 240.0L573.9 245.6M577.8 241.7L572.2 243.9" stroke="#1D8FF8" stroke-width="1.0"/><circle cx="575.0" cy="242.8" r="1.9" fill="none" stroke="#1D8FF8" stroke-width="0.8"/>
<path d="M573.7 223.1L579.3 225.3M575.4 221.4L577.6 227.0M577.6 221.4L575.4 227.0M579.3 223.1L573.7 225.3" stroke="#1D8FF8" stroke-width="1.0"/><circle cx="576.5" cy="224.2" r="1.9" fill="none" stroke="#1D8FF8" stroke-width="0.8"/>
<path d="M577.9 238.8L583.5 241.0M579.6 237.1L581.8 242.7M581.8 237.1L579.6 242.7M583.5 238.8L577.9 241.0" stroke="#1D8FF8" stroke-width="1.0"/><circle cx="580.7" cy="239.9" r="1.9" fill="none" stroke="#1D8FF8" stroke-width="0.8"/>
<path d="M565.7 253.6L571.3 255.8M567.4 251.9L569.6 257.5M569.6 251.9L567.4 257.5M571.3 253.6L565.7 255.8" stroke="#1D8FF8" stroke-width="1.0"/><circle cx="568.5" cy="254.7" r="1.9" fill="none" stroke="#1D8FF8" stroke-width="0.8"/>
<path d="M551.6 257.9L557.2 260.1M553.3 256.2L555.5 261.8M555.5 256.2L553.3 261.8M557.2 257.9L551.6 260.1" stroke="#1D8FF8" stroke-width="1.0"/><circle cx="554.4" cy="259.0" r="1.9" fill="none" stroke="#1D8FF8" stroke-width="0.8"/>
<path d="M556.1 265.5L561.7 267.7M557.8 263.8L560.0 269.4M560.0 263.8L557.8 269.4M561.7 265.5L556.1 267.7" stroke="#1D8FF8" stroke-width="1.0"/><circle cx="558.9" cy="266.6" r="1.9" fill="none" stroke="#1D8FF8" stroke-width="0.8"/>
<path d="M545.6 267.3L551.2 269.5M547.3 265.6L549.5 271.2M549.5 265.6L547.3 271.2M551.2 267.3L545.6 269.5" stroke="#1D8FF8" stroke-width="1.0"/><circle cx="548.4" cy="268.4" r="1.9" fill="none" stroke="#1D8FF8" stroke-width="0.8"/>
<path d="M550.3 274.5L555.9 276.7M552.0 272.8L554.2 278.4M554.2 272.8L552.0 278.4M555.9 274.5L550.3 276.7" stroke="#1D8FF8" stroke-width="1.0"/><circle cx="553.1" cy="275.6" r="1.9" fill="none" stroke="#1D8FF8" stroke-width="0.8"/>
<path d="M555.9 230.4L561.5 232.6M557.6 228.7L559.8 234.3M559.8 228.7L557.6 234.3M561.5 230.4L555.9 232.6" stroke="#1D8FF8" stroke-width="1.0"/><circle cx="558.7" cy="231.5" r="1.9" fill="none" stroke="#1D8FF8" stroke-width="0.8"/>
<line x1="482.30" y1="25.90" x2="729.30" y2="25.90" stroke="#666" stroke-width="1.2"/>
<line x1="482.30" y1="25.90" x2="482.30" y2="283.60" stroke="#333" stroke-width="1.1"/>
<line x1="729.30" y1="25.90" x2="729.30" y2="283.60" stroke="#111" stroke-width="1.4"/>
<line x1="482.30" y1="283.60" x2="729.30" y2="283.60" stroke="#333" stroke-width="1.1"/>
<line x1="508.00" y1="283.60" x2="508.00" y2="288.60" stroke="#333" stroke-width="1"/>
<text x="508.00" y="301.20" font-size="7.9" text-anchor="middle" font-weight="normal" fill="#000">0.0001</text>
<line x1="477.30" y1="257.00" x2="482.30" y2="257.00" stroke="#333" stroke-width="1"/>
<text x="470.80" y="257.00" font-size="7.9" text-anchor="middle" font-weight="normal" fill="#000" transform="rotate(-90 470.8 257.0)">0.0001</text>
<line x1="561.15" y1="283.60" x2="561.15" y2="288.60" stroke="#333" stroke-width="1"/>
<text x="561.15" y="301.20" font-size="7.9" text-anchor="middle" font-weight="normal" fill="#000">0.001</text>
<line x1="477.30" y1="201.70" x2="482.30" y2="201.70" stroke="#333" stroke-width="1"/>
<text x="470.80" y="201.70" font-size="7.9" text-anchor="middle" font-weight="normal" fill="#000" transform="rotate(-90 470.8 201.7)">0.001</text>
<line x1="614.30" y1="283.60" x2="614.30" y2="288.60" stroke="#333" stroke-width="1"/>
<text x="614.30" y="301.20" font-size="7.9" text-anchor="middle" font-weight="normal" fill="#000">0.01</text>
<line x1="477.30" y1="146.40" x2="482.30" y2="146.40" stroke="#333" stroke-width="1"/>
<text x="470.80" y="146.40" font-size="7.9" text-anchor="middle" font-weight="normal" fill="#000" transform="rotate(-90 470.8 146.4)">0.01</text>
<line x1="667.45" y1="283.60" x2="667.45" y2="288.60" stroke="#333" stroke-width="1"/>
<text x="667.45" y="301.20" font-size="7.9" text-anchor="middle" font-weight="normal" fill="#000">0.1</text>
<line x1="477.30" y1="91.10" x2="482.30" y2="91.10" stroke="#333" stroke-width="1"/>
<text x="470.80" y="91.10" font-size="7.9" text-anchor="middle" font-weight="normal" fill="#000" transform="rotate(-90 470.8 91.10000000000002)">0.1</text>
<line x1="720.60" y1="283.60" x2="720.60" y2="288.60" stroke="#333" stroke-width="1"/>
<text x="720.60" y="301.20" font-size="7.9" text-anchor="middle" font-weight="normal" fill="#000">1</text>
<line x1="477.30" y1="35.80" x2="482.30" y2="35.80" stroke="#333" stroke-width="1"/>
<text x="470.80" y="35.80" font-size="7.9" text-anchor="middle" font-weight="normal" fill="#000" transform="rotate(-90 470.8 35.80000000000001)">1</text>
<text x="606.30" y="320.80" font-size="8.3" text-anchor="middle" font-weight="normal" fill="#000">Maximum NCC Coefficient</text>
<text x="451.00" y="153.40" font-size="8.3" text-anchor="middle" font-weight="normal" fill="#000" transform="rotate(-90 451.0 153.4)">Estimated Maximum Coefficient with Theory and Peak Calling</text>
<rect x="654.40" y="191.50" width="63.30" height="29.70" fill="#fff" stroke="#222" stroke-width="1"/>
<circle cx="662.4" cy="202.4" r="1.9" fill="#000"/>
<path d="M660.00 210.61L664.80 212.59M661.41 209.20L663.39 214.00M663.39 209.20L661.41 214.00M664.80 210.61L660.00 212.59" stroke="#000" stroke-width="0.9"/>
<text x="669.70" y="205.30" font-size="8.2" text-anchor="start" font-weight="normal" fill="#000">Unsaturated</text>
<text x="669.70" y="215.00" font-size="8.2" text-anchor="start" font-weight="normal" fill="#000">Saturated</text>
<rect x="654.20" y="232.80" width="74.60" height="50.00" fill="#fff" stroke="#222" stroke-width="1"/>
<circle cx="662.4" cy="242.6" r="1.9" fill="#1D8FF8"/>
<text x="669.70" y="245.50" font-size="8.2" text-anchor="start" font-weight="normal" fill="#000">TF</text>
<circle cx="662.4" cy="253.2" r="1.9" fill="#7FFA00"/>
<text x="669.70" y="256.10" font-size="8.2" text-anchor="start" font-weight="normal" fill="#000">Narrow Histone</text>
<circle cx="662.4" cy="263.0" r="1.9" fill="#FFA500"/>
<text x="669.70" y="265.90" font-size="8.2" text-anchor="start" font-weight="normal" fill="#000">Broad Histone</text>
<circle cx="662.4" cy="273.3" r="1.9" fill="#FA8072"/>
<text x="669.70" y="276.20" font-size="8.2" text-anchor="start" font-weight="normal" fill="#000">H3K9me3</text>
</svg></body></html>
